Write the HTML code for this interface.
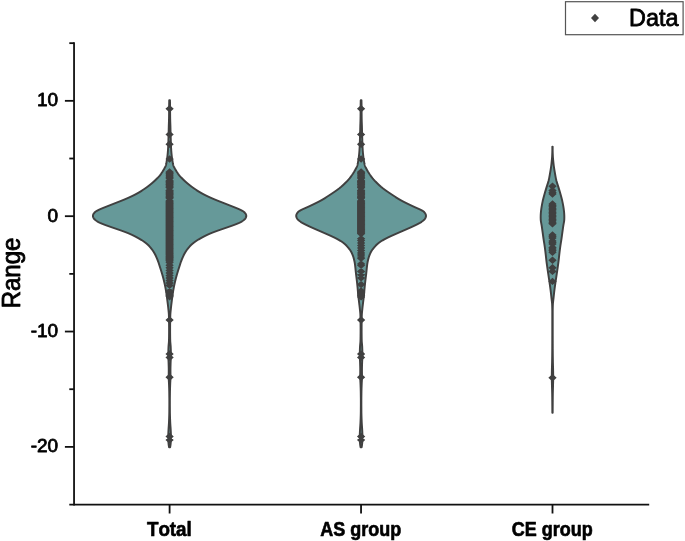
<!DOCTYPE html>
<html><head><meta charset="utf-8"><title>Violin plot</title>
<style>html,body{margin:0;padding:0;background:#fff}svg{display:block}</style></head>
<body>
<svg width="685" height="541" viewBox="0 0 685 541">
<rect width="685" height="541" fill="#fff"/>
<path d="M169.25,100.30 L169.24,100.80 L169.22,101.30 L169.21,101.80 L169.20,102.30 L169.19,102.80 L169.18,103.30 L169.17,103.80 L169.16,104.30 L169.15,104.80 L169.15,105.30 L169.14,105.80 L169.14,106.30 L169.13,106.80 L169.13,107.30 L169.13,107.80 L169.12,108.30 L169.12,108.80 L169.12,109.30 L169.12,109.80 L169.11,110.30 L169.11,110.80 L169.11,111.30 L169.10,111.80 L169.10,112.30 L169.09,112.80 L169.09,113.30 L169.08,113.80 L169.08,114.30 L169.07,114.80 L169.07,115.30 L169.06,115.80 L169.06,116.30 L169.05,116.80 L169.04,117.30 L169.04,117.80 L169.03,118.30 L169.02,118.80 L169.01,119.30 L169.00,119.80 L168.99,120.30 L168.98,120.80 L168.97,121.30 L168.95,121.80 L168.93,122.30 L168.92,122.80 L168.90,123.30 L168.88,123.80 L168.86,124.30 L168.84,124.80 L168.82,125.30 L168.81,125.80 L168.79,126.30 L168.78,126.80 L168.77,127.30 L168.75,127.80 L168.74,128.30 L168.73,128.80 L168.72,129.30 L168.71,129.80 L168.69,130.30 L168.68,130.80 L168.67,131.30 L168.66,131.80 L168.64,132.30 L168.63,132.80 L168.61,133.30 L168.60,133.80 L168.58,134.30 L168.57,134.80 L168.55,135.30 L168.54,135.80 L168.52,136.30 L168.51,136.80 L168.49,137.30 L168.48,137.80 L168.46,138.30 L168.45,138.80 L168.43,139.30 L168.42,139.80 L168.41,140.30 L168.39,140.80 L168.38,141.30 L168.37,141.80 L168.35,142.30 L168.34,142.80 L168.32,143.30 L168.31,143.80 L168.29,144.30 L168.27,144.80 L168.25,145.30 L168.23,145.80 L168.20,146.30 L168.18,146.80 L168.15,147.30 L168.12,147.80 L168.09,148.30 L168.06,148.80 L168.03,149.30 L168.00,149.80 L167.97,150.30 L167.93,150.80 L167.89,151.30 L167.85,151.80 L167.81,152.30 L167.77,152.80 L167.72,153.30 L167.67,153.80 L167.62,154.30 L167.57,154.80 L167.52,155.30 L167.46,155.80 L167.41,156.30 L167.35,156.80 L167.29,157.30 L167.22,157.80 L167.15,158.30 L167.07,158.80 L166.99,159.30 L166.90,159.80 L166.82,160.30 L166.73,160.80 L166.65,161.30 L166.58,161.80 L166.50,162.30 L166.42,162.80 L166.34,163.30 L166.25,163.80 L166.14,164.30 L166.02,164.80 L165.87,165.30 L165.69,165.80 L165.48,166.30 L165.25,166.80 L165.00,167.30 L164.75,167.80 L164.48,168.30 L164.22,168.80 L163.94,169.30 L163.65,169.80 L163.36,170.30 L163.06,170.80 L162.75,171.30 L162.43,171.80 L162.11,172.30 L161.77,172.80 L161.43,173.30 L161.08,173.80 L160.71,174.30 L160.33,174.80 L159.93,175.30 L159.52,175.80 L159.09,176.30 L158.65,176.80 L158.20,177.30 L157.74,177.80 L157.26,178.30 L156.77,178.80 L156.27,179.30 L155.76,179.80 L155.24,180.30 L154.71,180.80 L154.17,181.30 L153.62,181.80 L153.05,182.30 L152.48,182.80 L151.89,183.30 L151.30,183.80 L150.69,184.30 L150.07,184.80 L149.44,185.30 L148.80,185.80 L148.15,186.30 L147.49,186.80 L146.81,187.30 L146.11,187.80 L145.40,188.30 L144.67,188.80 L143.92,189.30 L143.15,189.80 L142.37,190.30 L141.57,190.80 L140.76,191.30 L139.93,191.80 L139.08,192.30 L138.21,192.80 L137.32,193.30 L136.41,193.80 L135.47,194.30 L134.51,194.80 L133.52,195.30 L132.50,195.80 L131.46,196.30 L130.39,196.80 L129.30,197.30 L128.18,197.80 L127.05,198.30 L125.89,198.80 L124.71,199.30 L123.51,199.80 L122.28,200.30 L121.03,200.80 L119.77,201.30 L118.49,201.80 L117.21,202.30 L115.93,202.80 L114.66,203.30 L113.39,203.80 L112.12,204.30 L110.86,204.80 L109.60,205.30 L108.33,205.80 L107.06,206.30 L105.80,206.80 L104.54,207.30 L103.29,207.80 L102.07,208.30 L100.89,208.80 L99.77,209.30 L98.72,209.80 L97.76,210.30 L96.89,210.80 L96.12,211.30 L95.45,211.80 L94.87,212.30 L94.37,212.80 L93.95,213.30 L93.60,213.80 L93.33,214.30 L93.12,214.80 L92.99,215.30 L92.93,215.80 L92.95,216.30 L93.04,216.80 L93.20,217.30 L93.43,217.80 L93.73,218.30 L94.10,218.80 L94.54,219.30 L95.06,219.80 L95.66,220.30 L96.35,220.80 L97.13,221.30 L98.01,221.80 L98.97,222.30 L100.03,222.80 L101.17,223.30 L102.38,223.80 L103.65,224.30 L104.97,224.80 L106.33,225.30 L107.71,225.80 L109.12,226.30 L110.55,226.80 L111.99,227.30 L113.44,227.80 L114.90,228.30 L116.35,228.80 L117.81,229.30 L119.25,229.80 L120.68,230.30 L122.09,230.80 L123.48,231.30 L124.83,231.80 L126.15,232.30 L127.42,232.80 L128.64,233.30 L129.81,233.80 L130.93,234.30 L132.01,234.80 L133.05,235.30 L134.06,235.80 L135.03,236.30 L135.99,236.80 L136.91,237.30 L137.82,237.80 L138.70,238.30 L139.56,238.80 L140.39,239.30 L141.19,239.80 L141.96,240.30 L142.71,240.80 L143.43,241.30 L144.13,241.80 L144.81,242.30 L145.47,242.80 L146.10,243.30 L146.72,243.80 L147.30,244.30 L147.87,244.80 L148.41,245.30 L148.92,245.80 L149.41,246.30 L149.87,246.80 L150.30,247.30 L150.72,247.80 L151.12,248.30 L151.50,248.80 L151.87,249.30 L152.23,249.80 L152.57,250.30 L152.90,250.80 L153.23,251.30 L153.55,251.80 L153.86,252.30 L154.16,252.80 L154.45,253.30 L154.73,253.80 L155.00,254.30 L155.27,254.80 L155.52,255.30 L155.77,255.80 L156.01,256.30 L156.24,256.80 L156.47,257.30 L156.69,257.80 L156.91,258.30 L157.12,258.80 L157.32,259.30 L157.52,259.80 L157.71,260.30 L157.90,260.80 L158.08,261.30 L158.26,261.80 L158.43,262.30 L158.59,262.80 L158.76,263.30 L158.91,263.80 L159.07,264.30 L159.23,264.80 L159.39,265.30 L159.54,265.80 L159.70,266.30 L159.86,266.80 L160.02,267.30 L160.19,267.80 L160.35,268.30 L160.51,268.80 L160.67,269.30 L160.83,269.80 L160.99,270.30 L161.15,270.80 L161.31,271.30 L161.46,271.80 L161.61,272.30 L161.76,272.80 L161.91,273.30 L162.06,273.80 L162.20,274.30 L162.35,274.80 L162.49,275.30 L162.63,275.80 L162.77,276.30 L162.91,276.80 L163.05,277.30 L163.18,277.80 L163.31,278.30 L163.44,278.80 L163.57,279.30 L163.69,279.80 L163.82,280.30 L163.94,280.80 L164.06,281.30 L164.18,281.80 L164.30,282.30 L164.41,282.80 L164.53,283.30 L164.64,283.80 L164.75,284.30 L164.86,284.80 L164.96,285.30 L165.07,285.80 L165.17,286.30 L165.27,286.80 L165.37,287.30 L165.46,287.80 L165.55,288.30 L165.65,288.80 L165.74,289.30 L165.83,289.80 L165.91,290.30 L166.00,290.80 L166.08,291.30 L166.17,291.80 L166.25,292.30 L166.33,292.80 L166.40,293.30 L166.48,293.80 L166.55,294.30 L166.63,294.80 L166.70,295.30 L166.77,295.80 L166.83,296.30 L166.90,296.80 L166.96,297.30 L167.03,297.80 L167.09,298.30 L167.15,298.80 L167.21,299.30 L167.28,299.80 L167.34,300.30 L167.40,300.80 L167.47,301.30 L167.53,301.80 L167.59,302.30 L167.66,302.80 L167.72,303.30 L167.78,303.80 L167.84,304.30 L167.91,304.80 L167.97,305.30 L168.02,305.80 L168.08,306.30 L168.14,306.80 L168.19,307.30 L168.24,307.80 L168.30,308.30 L168.35,308.80 L168.40,309.30 L168.46,309.80 L168.51,310.30 L168.56,310.80 L168.61,311.30 L168.66,311.80 L168.71,312.30 L168.75,312.80 L168.79,313.30 L168.82,313.80 L168.85,314.30 L168.87,314.80 L168.89,315.30 L168.91,315.80 L168.92,316.30 L168.94,316.80 L168.96,317.30 L168.97,317.80 L168.98,318.30 L169.00,318.80 L169.01,319.30 L169.02,319.80 L169.03,320.30 L169.03,320.80 L169.04,321.30 L169.05,321.80 L169.05,322.30 L169.06,322.80 L169.06,323.30 L169.07,323.80 L169.07,324.30 L169.08,324.80 L169.08,325.30 L169.08,325.80 L169.09,326.30 L169.09,326.80 L169.09,327.30 L169.10,327.80 L169.10,328.30 L169.10,328.80 L169.10,329.30 L169.10,329.80 L169.10,330.30 L169.10,330.80 L169.10,331.30 L169.10,331.80 L169.09,332.30 L169.09,332.80 L169.09,333.30 L169.08,333.80 L169.08,334.30 L169.07,334.80 L169.07,335.30 L169.06,335.80 L169.06,336.30 L169.05,336.80 L169.04,337.30 L169.04,337.80 L169.03,338.30 L169.02,338.80 L169.01,339.30 L169.00,339.80 L168.99,340.30 L168.97,340.80 L168.95,341.30 L168.91,341.80 L168.88,342.30 L168.83,342.80 L168.79,343.30 L168.74,343.80 L168.70,344.30 L168.65,344.80 L168.61,345.30 L168.57,345.80 L168.54,346.30 L168.51,346.80 L168.49,347.30 L168.47,347.80 L168.45,348.30 L168.43,348.80 L168.41,349.30 L168.39,349.80 L168.37,350.30 L168.36,350.80 L168.35,351.30 L168.35,351.80 L168.35,352.30 L168.35,352.80 L168.35,353.30 L168.35,353.80 L168.35,354.30 L168.35,354.80 L168.35,355.30 L168.35,355.80 L168.35,356.30 L168.35,356.80 L168.35,357.30 L168.36,357.80 L168.37,358.30 L168.39,358.80 L168.42,359.30 L168.44,359.80 L168.47,360.30 L168.50,360.80 L168.53,361.30 L168.55,361.80 L168.57,362.30 L168.59,362.80 L168.61,363.30 L168.62,363.80 L168.64,364.30 L168.65,364.80 L168.67,365.30 L168.68,365.80 L168.69,366.30 L168.71,366.80 L168.72,367.30 L168.73,367.80 L168.74,368.30 L168.74,368.80 L168.75,369.30 L168.75,369.80 L168.75,370.30 L168.75,370.80 L168.75,371.30 L168.74,371.80 L168.74,372.30 L168.73,372.80 L168.73,373.30 L168.72,373.80 L168.72,374.30 L168.71,374.80 L168.71,375.30 L168.70,375.80 L168.70,376.30 L168.70,376.80 L168.70,377.30 L168.71,377.80 L168.72,378.30 L168.74,378.80 L168.76,379.30 L168.78,379.80 L168.81,380.30 L168.84,380.80 L168.86,381.30 L168.89,381.80 L168.92,382.30 L168.95,382.80 L168.97,383.30 L168.99,383.80 L169.01,384.30 L169.03,384.80 L169.05,385.30 L169.07,385.80 L169.09,386.30 L169.10,386.80 L169.12,387.30 L169.14,387.80 L169.16,388.30 L169.17,388.80 L169.19,389.30 L169.20,389.80 L169.21,390.30 L169.23,390.80 L169.24,391.30 L169.25,391.80 L169.25,392.30 L169.26,392.80 L169.27,393.30 L169.28,393.80 L169.28,394.30 L169.29,394.80 L169.30,395.30 L169.30,395.80 L169.31,396.30 L169.32,396.80 L169.32,397.30 L169.33,397.80 L169.33,398.30 L169.34,398.80 L169.34,399.30 L169.34,399.80 L169.35,400.30 L169.35,400.80 L169.35,401.30 L169.35,401.80 L169.35,402.30 L169.35,402.80 L169.35,403.30 L169.35,403.80 L169.35,404.30 L169.35,404.80 L169.34,405.30 L169.34,405.80 L169.34,406.30 L169.34,406.80 L169.33,407.30 L169.33,407.80 L169.33,408.30 L169.32,408.80 L169.32,409.30 L169.32,409.80 L169.31,410.30 L169.31,410.80 L169.31,411.30 L169.30,411.80 L169.30,412.30 L169.29,412.80 L169.28,413.30 L169.27,413.80 L169.26,414.30 L169.25,414.80 L169.24,415.30 L169.23,415.80 L169.21,416.30 L169.20,416.80 L169.18,417.30 L169.16,417.80 L169.15,418.30 L169.13,418.80 L169.11,419.30 L169.09,419.80 L169.07,420.30 L169.05,420.80 L169.03,421.30 L169.01,421.80 L168.99,422.30 L168.96,422.80 L168.94,423.30 L168.91,423.80 L168.87,424.30 L168.84,424.80 L168.81,425.30 L168.77,425.80 L168.74,426.30 L168.70,426.80 L168.66,427.30 L168.63,427.80 L168.60,428.30 L168.57,428.80 L168.54,429.30 L168.51,429.80 L168.49,430.30 L168.46,430.80 L168.43,431.30 L168.41,431.80 L168.38,432.30 L168.36,432.80 L168.34,433.30 L168.32,433.80 L168.31,434.30 L168.30,434.80 L168.30,435.30 L168.30,435.80 L168.30,436.30 L168.30,436.80 L168.30,437.30 L168.30,437.80 L168.30,438.30 L168.30,438.80 L168.30,439.30 L168.30,439.80 L168.30,440.30 L168.32,440.80 L168.35,441.30 L168.38,441.80 L168.43,442.30 L168.48,442.80 L168.53,443.30 L168.58,443.80 L168.63,444.30 L168.69,444.80 L168.76,445.30 L168.84,445.80 L168.92,446.30 L169.01,446.80 L169.10,447.30 L170.10,447.30 L170.19,446.80 L170.28,446.30 L170.36,445.80 L170.44,445.30 L170.51,444.80 L170.57,444.30 L170.62,443.80 L170.67,443.30 L170.72,442.80 L170.77,442.30 L170.82,441.80 L170.85,441.30 L170.88,440.80 L170.90,440.30 L170.90,439.80 L170.90,439.30 L170.90,438.80 L170.90,438.30 L170.90,437.80 L170.90,437.30 L170.90,436.80 L170.90,436.30 L170.90,435.80 L170.90,435.30 L170.90,434.80 L170.89,434.30 L170.88,433.80 L170.86,433.30 L170.84,432.80 L170.82,432.30 L170.79,431.80 L170.77,431.30 L170.74,430.80 L170.71,430.30 L170.69,429.80 L170.66,429.30 L170.63,428.80 L170.60,428.30 L170.57,427.80 L170.54,427.30 L170.50,426.80 L170.46,426.30 L170.43,425.80 L170.39,425.30 L170.36,424.80 L170.33,424.30 L170.29,423.80 L170.26,423.30 L170.24,422.80 L170.21,422.30 L170.19,421.80 L170.17,421.30 L170.15,420.80 L170.13,420.30 L170.11,419.80 L170.09,419.30 L170.07,418.80 L170.05,418.30 L170.04,417.80 L170.02,417.30 L170.00,416.80 L169.99,416.30 L169.97,415.80 L169.96,415.30 L169.95,414.80 L169.94,414.30 L169.93,413.80 L169.92,413.30 L169.91,412.80 L169.90,412.30 L169.90,411.80 L169.89,411.30 L169.89,410.80 L169.89,410.30 L169.88,409.80 L169.88,409.30 L169.88,408.80 L169.87,408.30 L169.87,407.80 L169.87,407.30 L169.86,406.80 L169.86,406.30 L169.86,405.80 L169.86,405.30 L169.85,404.80 L169.85,404.30 L169.85,403.80 L169.85,403.30 L169.85,402.80 L169.85,402.30 L169.85,401.80 L169.85,401.30 L169.85,400.80 L169.85,400.30 L169.86,399.80 L169.86,399.30 L169.86,398.80 L169.87,398.30 L169.87,397.80 L169.88,397.30 L169.88,396.80 L169.89,396.30 L169.90,395.80 L169.90,395.30 L169.91,394.80 L169.92,394.30 L169.92,393.80 L169.93,393.30 L169.94,392.80 L169.95,392.30 L169.95,391.80 L169.96,391.30 L169.97,390.80 L169.99,390.30 L170.00,389.80 L170.01,389.30 L170.03,388.80 L170.04,388.30 L170.06,387.80 L170.08,387.30 L170.10,386.80 L170.11,386.30 L170.13,385.80 L170.15,385.30 L170.17,384.80 L170.19,384.30 L170.21,383.80 L170.23,383.30 L170.25,382.80 L170.28,382.30 L170.31,381.80 L170.34,381.30 L170.36,380.80 L170.39,380.30 L170.42,379.80 L170.44,379.30 L170.46,378.80 L170.48,378.30 L170.49,377.80 L170.50,377.30 L170.50,376.80 L170.50,376.30 L170.50,375.80 L170.49,375.30 L170.49,374.80 L170.48,374.30 L170.48,373.80 L170.47,373.30 L170.47,372.80 L170.46,372.30 L170.46,371.80 L170.45,371.30 L170.45,370.80 L170.45,370.30 L170.45,369.80 L170.45,369.30 L170.46,368.80 L170.46,368.30 L170.47,367.80 L170.48,367.30 L170.49,366.80 L170.51,366.30 L170.52,365.80 L170.53,365.30 L170.55,364.80 L170.56,364.30 L170.58,363.80 L170.59,363.30 L170.61,362.80 L170.63,362.30 L170.65,361.80 L170.67,361.30 L170.70,360.80 L170.73,360.30 L170.76,359.80 L170.78,359.30 L170.81,358.80 L170.83,358.30 L170.84,357.80 L170.85,357.30 L170.85,356.80 L170.85,356.30 L170.85,355.80 L170.85,355.30 L170.85,354.80 L170.85,354.30 L170.85,353.80 L170.85,353.30 L170.85,352.80 L170.85,352.30 L170.85,351.80 L170.85,351.30 L170.84,350.80 L170.83,350.30 L170.81,349.80 L170.79,349.30 L170.77,348.80 L170.75,348.30 L170.73,347.80 L170.71,347.30 L170.69,346.80 L170.66,346.30 L170.63,345.80 L170.59,345.30 L170.55,344.80 L170.50,344.30 L170.46,343.80 L170.41,343.30 L170.37,342.80 L170.32,342.30 L170.29,341.80 L170.25,341.30 L170.23,340.80 L170.21,340.30 L170.20,339.80 L170.19,339.30 L170.18,338.80 L170.17,338.30 L170.16,337.80 L170.16,337.30 L170.15,336.80 L170.14,336.30 L170.14,335.80 L170.13,335.30 L170.13,334.80 L170.12,334.30 L170.12,333.80 L170.11,333.30 L170.11,332.80 L170.11,332.30 L170.10,331.80 L170.10,331.30 L170.10,330.80 L170.10,330.30 L170.10,329.80 L170.10,329.30 L170.10,328.80 L170.10,328.30 L170.10,327.80 L170.11,327.30 L170.11,326.80 L170.11,326.30 L170.12,325.80 L170.12,325.30 L170.12,324.80 L170.13,324.30 L170.13,323.80 L170.14,323.30 L170.14,322.80 L170.15,322.30 L170.15,321.80 L170.16,321.30 L170.17,320.80 L170.17,320.30 L170.18,319.80 L170.19,319.30 L170.20,318.80 L170.22,318.30 L170.23,317.80 L170.24,317.30 L170.26,316.80 L170.28,316.30 L170.29,315.80 L170.31,315.30 L170.33,314.80 L170.35,314.30 L170.38,313.80 L170.41,313.30 L170.45,312.80 L170.49,312.30 L170.54,311.80 L170.59,311.30 L170.64,310.80 L170.69,310.30 L170.74,309.80 L170.80,309.30 L170.85,308.80 L170.90,308.30 L170.96,307.80 L171.01,307.30 L171.06,306.80 L171.12,306.30 L171.18,305.80 L171.23,305.30 L171.29,304.80 L171.36,304.30 L171.42,303.80 L171.48,303.30 L171.54,302.80 L171.61,302.30 L171.67,301.80 L171.73,301.30 L171.80,300.80 L171.86,300.30 L171.92,299.80 L171.99,299.30 L172.05,298.80 L172.11,298.30 L172.17,297.80 L172.24,297.30 L172.30,296.80 L172.37,296.30 L172.43,295.80 L172.50,295.30 L172.57,294.80 L172.65,294.30 L172.72,293.80 L172.80,293.30 L172.87,292.80 L172.95,292.30 L173.03,291.80 L173.12,291.30 L173.20,290.80 L173.29,290.30 L173.37,289.80 L173.46,289.30 L173.55,288.80 L173.65,288.30 L173.74,287.80 L173.83,287.30 L173.93,286.80 L174.03,286.30 L174.13,285.80 L174.24,285.30 L174.34,284.80 L174.45,284.30 L174.56,283.80 L174.67,283.30 L174.79,282.80 L174.90,282.30 L175.02,281.80 L175.14,281.30 L175.26,280.80 L175.38,280.30 L175.51,279.80 L175.63,279.30 L175.76,278.80 L175.89,278.30 L176.02,277.80 L176.15,277.30 L176.29,276.80 L176.43,276.30 L176.57,275.80 L176.71,275.30 L176.85,274.80 L177.00,274.30 L177.14,273.80 L177.29,273.30 L177.44,272.80 L177.59,272.30 L177.74,271.80 L177.89,271.30 L178.05,270.80 L178.21,270.30 L178.37,269.80 L178.53,269.30 L178.69,268.80 L178.85,268.30 L179.01,267.80 L179.18,267.30 L179.34,266.80 L179.50,266.30 L179.66,265.80 L179.81,265.30 L179.97,264.80 L180.13,264.30 L180.29,263.80 L180.44,263.30 L180.61,262.80 L180.77,262.30 L180.94,261.80 L181.12,261.30 L181.30,260.80 L181.49,260.30 L181.68,259.80 L181.88,259.30 L182.08,258.80 L182.29,258.30 L182.51,257.80 L182.73,257.30 L182.96,256.80 L183.19,256.30 L183.43,255.80 L183.68,255.30 L183.93,254.80 L184.20,254.30 L184.47,253.80 L184.75,253.30 L185.04,252.80 L185.34,252.30 L185.65,251.80 L185.97,251.30 L186.30,250.80 L186.63,250.30 L186.97,249.80 L187.33,249.30 L187.70,248.80 L188.08,248.30 L188.48,247.80 L188.90,247.30 L189.33,246.80 L189.79,246.30 L190.28,245.80 L190.79,245.30 L191.33,244.80 L191.90,244.30 L192.48,243.80 L193.10,243.30 L193.73,242.80 L194.39,242.30 L195.07,241.80 L195.77,241.30 L196.49,240.80 L197.24,240.30 L198.01,239.80 L198.81,239.30 L199.64,238.80 L200.50,238.30 L201.38,237.80 L202.29,237.30 L203.21,236.80 L204.17,236.30 L205.14,235.80 L206.15,235.30 L207.19,234.80 L208.27,234.30 L209.39,233.80 L210.56,233.30 L211.78,232.80 L213.05,232.30 L214.37,231.80 L215.72,231.30 L217.11,230.80 L218.52,230.30 L219.95,229.80 L221.39,229.30 L222.85,228.80 L224.30,228.30 L225.76,227.80 L227.21,227.30 L228.65,226.80 L230.08,226.30 L231.49,225.80 L232.87,225.30 L234.23,224.80 L235.55,224.30 L236.82,223.80 L238.03,223.30 L239.17,222.80 L240.23,222.30 L241.19,221.80 L242.07,221.30 L242.85,220.80 L243.54,220.30 L244.14,219.80 L244.66,219.30 L245.10,218.80 L245.47,218.30 L245.77,217.80 L246.00,217.30 L246.16,216.80 L246.25,216.30 L246.27,215.80 L246.21,215.30 L246.08,214.80 L245.87,214.30 L245.60,213.80 L245.25,213.30 L244.83,212.80 L244.33,212.30 L243.75,211.80 L243.08,211.30 L242.31,210.80 L241.44,210.30 L240.48,209.80 L239.43,209.30 L238.31,208.80 L237.13,208.30 L235.91,207.80 L234.66,207.30 L233.40,206.80 L232.14,206.30 L230.87,205.80 L229.60,205.30 L228.34,204.80 L227.08,204.30 L225.81,203.80 L224.54,203.30 L223.27,202.80 L221.99,202.30 L220.71,201.80 L219.43,201.30 L218.17,200.80 L216.92,200.30 L215.69,199.80 L214.49,199.30 L213.31,198.80 L212.15,198.30 L211.02,197.80 L209.90,197.30 L208.81,196.80 L207.74,196.30 L206.70,195.80 L205.68,195.30 L204.69,194.80 L203.73,194.30 L202.79,193.80 L201.88,193.30 L200.99,192.80 L200.12,192.30 L199.27,191.80 L198.44,191.30 L197.63,190.80 L196.83,190.30 L196.05,189.80 L195.28,189.30 L194.53,188.80 L193.80,188.30 L193.09,187.80 L192.39,187.30 L191.71,186.80 L191.05,186.30 L190.40,185.80 L189.76,185.30 L189.13,184.80 L188.51,184.30 L187.90,183.80 L187.31,183.30 L186.72,182.80 L186.15,182.30 L185.58,181.80 L185.03,181.30 L184.49,180.80 L183.96,180.30 L183.44,179.80 L182.93,179.30 L182.43,178.80 L181.94,178.30 L181.46,177.80 L181.00,177.30 L180.55,176.80 L180.11,176.30 L179.68,175.80 L179.27,175.30 L178.87,174.80 L178.49,174.30 L178.12,173.80 L177.77,173.30 L177.43,172.80 L177.09,172.30 L176.77,171.80 L176.45,171.30 L176.14,170.80 L175.84,170.30 L175.55,169.80 L175.26,169.30 L174.98,168.80 L174.72,168.30 L174.45,167.80 L174.20,167.30 L173.95,166.80 L173.72,166.30 L173.51,165.80 L173.33,165.30 L173.18,164.80 L173.06,164.30 L172.95,163.80 L172.86,163.30 L172.78,162.80 L172.70,162.30 L172.62,161.80 L172.55,161.30 L172.47,160.80 L172.38,160.30 L172.30,159.80 L172.21,159.30 L172.13,158.80 L172.05,158.30 L171.98,157.80 L171.91,157.30 L171.85,156.80 L171.79,156.30 L171.74,155.80 L171.68,155.30 L171.63,154.80 L171.58,154.30 L171.53,153.80 L171.48,153.30 L171.43,152.80 L171.39,152.30 L171.35,151.80 L171.31,151.30 L171.27,150.80 L171.23,150.30 L171.20,149.80 L171.17,149.30 L171.14,148.80 L171.11,148.30 L171.08,147.80 L171.05,147.30 L171.02,146.80 L171.00,146.30 L170.97,145.80 L170.95,145.30 L170.93,144.80 L170.91,144.30 L170.89,143.80 L170.88,143.30 L170.86,142.80 L170.85,142.30 L170.83,141.80 L170.82,141.30 L170.81,140.80 L170.79,140.30 L170.78,139.80 L170.77,139.30 L170.75,138.80 L170.74,138.30 L170.72,137.80 L170.71,137.30 L170.69,136.80 L170.68,136.30 L170.66,135.80 L170.65,135.30 L170.63,134.80 L170.62,134.30 L170.60,133.80 L170.59,133.30 L170.57,132.80 L170.56,132.30 L170.54,131.80 L170.53,131.30 L170.52,130.80 L170.51,130.30 L170.49,129.80 L170.48,129.30 L170.47,128.80 L170.46,128.30 L170.45,127.80 L170.43,127.30 L170.42,126.80 L170.41,126.30 L170.39,125.80 L170.38,125.30 L170.36,124.80 L170.34,124.30 L170.32,123.80 L170.30,123.30 L170.28,122.80 L170.27,122.30 L170.25,121.80 L170.23,121.30 L170.22,120.80 L170.21,120.30 L170.20,119.80 L170.19,119.30 L170.18,118.80 L170.17,118.30 L170.16,117.80 L170.16,117.30 L170.15,116.80 L170.14,116.30 L170.14,115.80 L170.13,115.30 L170.13,114.80 L170.12,114.30 L170.12,113.80 L170.11,113.30 L170.11,112.80 L170.10,112.30 L170.10,111.80 L170.09,111.30 L170.09,110.80 L170.09,110.30 L170.08,109.80 L170.08,109.30 L170.08,108.80 L170.08,108.30 L170.07,107.80 L170.07,107.30 L170.07,106.80 L170.06,106.30 L170.06,105.80 L170.05,105.30 L170.05,104.80 L170.04,104.30 L170.03,103.80 L170.02,103.30 L170.01,102.80 L170.00,102.30 L169.99,101.80 L169.98,101.30 L169.96,100.80 L169.95,100.30 Z" fill="#669999" stroke="#404040" stroke-width="1.95" stroke-linejoin="round"/>
<path d="M360.75,100.30 L360.74,100.80 L360.72,101.30 L360.71,101.80 L360.70,102.30 L360.69,102.80 L360.68,103.30 L360.67,103.80 L360.66,104.30 L360.65,104.80 L360.65,105.30 L360.64,105.80 L360.64,106.30 L360.63,106.80 L360.63,107.30 L360.63,107.80 L360.62,108.30 L360.62,108.80 L360.62,109.30 L360.62,109.80 L360.61,110.30 L360.61,110.80 L360.61,111.30 L360.60,111.80 L360.60,112.30 L360.59,112.80 L360.59,113.30 L360.58,113.80 L360.58,114.30 L360.57,114.80 L360.57,115.30 L360.56,115.80 L360.56,116.30 L360.55,116.80 L360.54,117.30 L360.54,117.80 L360.53,118.30 L360.52,118.80 L360.51,119.30 L360.50,119.80 L360.49,120.30 L360.48,120.80 L360.47,121.30 L360.45,121.80 L360.43,122.30 L360.42,122.80 L360.40,123.30 L360.38,123.80 L360.36,124.30 L360.34,124.80 L360.32,125.30 L360.31,125.80 L360.29,126.30 L360.28,126.80 L360.27,127.30 L360.25,127.80 L360.24,128.30 L360.23,128.80 L360.22,129.30 L360.21,129.80 L360.19,130.30 L360.18,130.80 L360.17,131.30 L360.16,131.80 L360.14,132.30 L360.13,132.80 L360.11,133.30 L360.10,133.80 L360.08,134.30 L360.07,134.80 L360.05,135.30 L360.04,135.80 L360.02,136.30 L360.01,136.80 L359.99,137.30 L359.98,137.80 L359.96,138.30 L359.95,138.80 L359.93,139.30 L359.92,139.80 L359.91,140.30 L359.89,140.80 L359.88,141.30 L359.87,141.80 L359.85,142.30 L359.84,142.80 L359.82,143.30 L359.81,143.80 L359.79,144.30 L359.77,144.80 L359.75,145.30 L359.73,145.80 L359.70,146.30 L359.68,146.80 L359.65,147.30 L359.62,147.80 L359.59,148.30 L359.56,148.80 L359.53,149.30 L359.50,149.80 L359.47,150.30 L359.43,150.80 L359.39,151.30 L359.35,151.80 L359.31,152.30 L359.27,152.80 L359.22,153.30 L359.17,153.80 L359.12,154.30 L359.07,154.80 L359.02,155.30 L358.96,155.80 L358.91,156.30 L358.85,156.80 L358.79,157.30 L358.72,157.80 L358.65,158.30 L358.57,158.80 L358.49,159.30 L358.40,159.80 L358.32,160.30 L358.23,160.80 L358.15,161.30 L358.07,161.80 L358.00,162.30 L357.92,162.80 L357.84,163.30 L357.74,163.80 L357.64,164.30 L357.52,164.80 L357.38,165.30 L357.21,165.80 L357.01,166.30 L356.80,166.80 L356.57,167.30 L356.33,167.80 L356.08,168.30 L355.83,168.80 L355.57,169.30 L355.30,169.80 L355.02,170.30 L354.73,170.80 L354.44,171.30 L354.15,171.80 L353.84,172.30 L353.53,172.80 L353.21,173.30 L352.89,173.80 L352.55,174.30 L352.21,174.80 L351.85,175.30 L351.49,175.80 L351.12,176.30 L350.74,176.80 L350.35,177.30 L349.95,177.80 L349.55,178.30 L349.13,178.80 L348.71,179.30 L348.27,179.80 L347.83,180.30 L347.38,180.80 L346.92,181.30 L346.45,181.80 L345.97,182.30 L345.49,182.80 L344.99,183.30 L344.49,183.80 L343.97,184.30 L343.44,184.80 L342.91,185.30 L342.36,185.80 L341.79,186.30 L341.22,186.80 L340.62,187.30 L340.01,187.80 L339.39,188.30 L338.74,188.80 L338.08,189.30 L337.41,189.80 L336.72,190.30 L336.01,190.80 L335.30,191.30 L334.57,191.80 L333.84,192.30 L333.10,192.80 L332.35,193.30 L331.60,193.80 L330.85,194.30 L330.09,194.80 L329.33,195.30 L328.56,195.80 L327.79,196.30 L327.01,196.80 L326.22,197.30 L325.42,197.80 L324.61,198.30 L323.78,198.80 L322.93,199.30 L322.06,199.80 L321.17,200.30 L320.25,200.80 L319.31,201.30 L318.35,201.80 L317.36,202.30 L316.36,202.80 L315.34,203.30 L314.32,203.80 L313.29,204.30 L312.26,204.80 L311.21,205.30 L310.16,205.80 L309.10,206.30 L308.01,206.80 L306.90,207.30 L305.78,207.80 L304.63,208.30 L303.50,208.80 L302.41,209.30 L301.38,209.80 L300.45,210.30 L299.64,210.80 L298.94,211.30 L298.35,211.80 L297.85,212.30 L297.43,212.80 L297.08,213.30 L296.79,213.80 L296.55,214.30 L296.38,214.80 L296.27,215.30 L296.22,215.80 L296.24,216.30 L296.33,216.80 L296.48,217.30 L296.69,217.80 L296.96,218.30 L297.28,218.80 L297.67,219.30 L298.12,219.80 L298.64,220.30 L299.23,220.80 L299.90,221.30 L300.63,221.80 L301.44,222.30 L302.30,222.80 L303.21,223.30 L304.15,223.80 L305.12,224.30 L306.12,224.80 L307.14,225.30 L308.18,225.80 L309.25,226.30 L310.33,226.80 L311.44,227.30 L312.55,227.80 L313.68,228.30 L314.82,228.80 L315.97,229.30 L317.11,229.80 L318.26,230.30 L319.41,230.80 L320.56,231.30 L321.71,231.80 L322.86,232.30 L324.01,232.80 L325.15,233.30 L326.29,233.80 L327.42,234.30 L328.55,234.80 L329.67,235.30 L330.78,235.80 L331.87,236.30 L332.94,236.80 L333.98,237.30 L335.00,237.80 L335.98,238.30 L336.93,238.80 L337.85,239.30 L338.73,239.80 L339.57,240.30 L340.37,240.80 L341.14,241.30 L341.87,241.80 L342.57,242.30 L343.24,242.80 L343.87,243.30 L344.47,243.80 L345.05,244.30 L345.59,244.80 L346.11,245.30 L346.61,245.80 L347.08,246.30 L347.54,246.80 L347.97,247.30 L348.39,247.80 L348.79,248.30 L349.18,248.80 L349.55,249.30 L349.90,249.80 L350.23,250.30 L350.55,250.80 L350.85,251.30 L351.14,251.80 L351.41,252.30 L351.67,252.80 L351.92,253.30 L352.15,253.80 L352.37,254.30 L352.58,254.80 L352.77,255.30 L352.95,255.80 L353.11,256.30 L353.27,256.80 L353.42,257.30 L353.57,257.80 L353.70,258.30 L353.84,258.80 L353.97,259.30 L354.09,259.80 L354.21,260.30 L354.33,260.80 L354.44,261.30 L354.55,261.80 L354.65,262.30 L354.74,262.80 L354.82,263.30 L354.90,263.80 L354.97,264.30 L355.04,264.80 L355.10,265.30 L355.16,265.80 L355.22,266.30 L355.28,266.80 L355.33,267.30 L355.39,267.80 L355.44,268.30 L355.49,268.80 L355.54,269.30 L355.59,269.80 L355.64,270.30 L355.69,270.80 L355.74,271.30 L355.79,271.80 L355.84,272.30 L355.90,272.80 L355.96,273.30 L356.01,273.80 L356.07,274.30 L356.13,274.80 L356.20,275.30 L356.26,275.80 L356.32,276.30 L356.38,276.80 L356.45,277.30 L356.51,277.80 L356.57,278.30 L356.63,278.80 L356.69,279.30 L356.75,279.80 L356.81,280.30 L356.86,280.80 L356.92,281.30 L356.98,281.80 L357.03,282.30 L357.09,282.80 L357.14,283.30 L357.20,283.80 L357.25,284.30 L357.30,284.80 L357.36,285.30 L357.41,285.80 L357.46,286.30 L357.51,286.80 L357.56,287.30 L357.61,287.80 L357.65,288.30 L357.70,288.80 L357.74,289.30 L357.78,289.80 L357.82,290.30 L357.86,290.80 L357.91,291.30 L357.95,291.80 L357.99,292.30 L358.03,292.80 L358.08,293.30 L358.12,293.80 L358.17,294.30 L358.22,294.80 L358.27,295.30 L358.33,295.80 L358.38,296.30 L358.44,296.80 L358.49,297.30 L358.55,297.80 L358.61,298.30 L358.67,298.80 L358.73,299.30 L358.79,299.80 L358.85,300.30 L358.91,300.80 L358.97,301.30 L359.03,301.80 L359.09,302.30 L359.15,302.80 L359.21,303.30 L359.27,303.80 L359.33,304.30 L359.40,304.80 L359.46,305.30 L359.52,305.80 L359.58,306.30 L359.64,306.80 L359.69,307.30 L359.74,307.80 L359.80,308.30 L359.85,308.80 L359.90,309.30 L359.96,309.80 L360.01,310.30 L360.06,310.80 L360.11,311.30 L360.16,311.80 L360.21,312.30 L360.25,312.80 L360.29,313.30 L360.32,313.80 L360.35,314.30 L360.37,314.80 L360.39,315.30 L360.41,315.80 L360.42,316.30 L360.44,316.80 L360.46,317.30 L360.47,317.80 L360.48,318.30 L360.50,318.80 L360.51,319.30 L360.52,319.80 L360.53,320.30 L360.53,320.80 L360.54,321.30 L360.55,321.80 L360.55,322.30 L360.56,322.80 L360.56,323.30 L360.57,323.80 L360.57,324.30 L360.58,324.80 L360.58,325.30 L360.58,325.80 L360.59,326.30 L360.59,326.80 L360.59,327.30 L360.60,327.80 L360.60,328.30 L360.60,328.80 L360.60,329.30 L360.60,329.80 L360.60,330.30 L360.60,330.80 L360.60,331.30 L360.60,331.80 L360.59,332.30 L360.59,332.80 L360.59,333.30 L360.58,333.80 L360.58,334.30 L360.57,334.80 L360.57,335.30 L360.56,335.80 L360.56,336.30 L360.55,336.80 L360.54,337.30 L360.54,337.80 L360.53,338.30 L360.52,338.80 L360.51,339.30 L360.50,339.80 L360.49,340.30 L360.47,340.80 L360.45,341.30 L360.41,341.80 L360.38,342.30 L360.33,342.80 L360.29,343.30 L360.24,343.80 L360.20,344.30 L360.15,344.80 L360.11,345.30 L360.07,345.80 L360.04,346.30 L360.01,346.80 L359.99,347.30 L359.97,347.80 L359.95,348.30 L359.93,348.80 L359.91,349.30 L359.89,349.80 L359.87,350.30 L359.86,350.80 L359.85,351.30 L359.85,351.80 L359.85,352.30 L359.85,352.80 L359.85,353.30 L359.85,353.80 L359.85,354.30 L359.85,354.80 L359.85,355.30 L359.85,355.80 L359.85,356.30 L359.85,356.80 L359.85,357.30 L359.86,357.80 L359.87,358.30 L359.89,358.80 L359.92,359.30 L359.94,359.80 L359.97,360.30 L360.00,360.80 L360.03,361.30 L360.05,361.80 L360.07,362.30 L360.09,362.80 L360.11,363.30 L360.12,363.80 L360.14,364.30 L360.15,364.80 L360.17,365.30 L360.18,365.80 L360.19,366.30 L360.21,366.80 L360.22,367.30 L360.23,367.80 L360.24,368.30 L360.24,368.80 L360.25,369.30 L360.25,369.80 L360.25,370.30 L360.25,370.80 L360.25,371.30 L360.24,371.80 L360.24,372.30 L360.23,372.80 L360.23,373.30 L360.22,373.80 L360.22,374.30 L360.21,374.80 L360.21,375.30 L360.20,375.80 L360.20,376.30 L360.20,376.80 L360.20,377.30 L360.21,377.80 L360.22,378.30 L360.24,378.80 L360.26,379.30 L360.28,379.80 L360.31,380.30 L360.34,380.80 L360.36,381.30 L360.39,381.80 L360.42,382.30 L360.45,382.80 L360.47,383.30 L360.49,383.80 L360.51,384.30 L360.53,384.80 L360.55,385.30 L360.57,385.80 L360.59,386.30 L360.60,386.80 L360.62,387.30 L360.64,387.80 L360.66,388.30 L360.67,388.80 L360.69,389.30 L360.70,389.80 L360.71,390.30 L360.73,390.80 L360.74,391.30 L360.75,391.80 L360.75,392.30 L360.76,392.80 L360.77,393.30 L360.78,393.80 L360.78,394.30 L360.79,394.80 L360.80,395.30 L360.80,395.80 L360.81,396.30 L360.82,396.80 L360.82,397.30 L360.83,397.80 L360.83,398.30 L360.84,398.80 L360.84,399.30 L360.84,399.80 L360.85,400.30 L360.85,400.80 L360.85,401.30 L360.85,401.80 L360.85,402.30 L360.85,402.80 L360.85,403.30 L360.85,403.80 L360.85,404.30 L360.85,404.80 L360.84,405.30 L360.84,405.80 L360.84,406.30 L360.84,406.80 L360.83,407.30 L360.83,407.80 L360.83,408.30 L360.82,408.80 L360.82,409.30 L360.82,409.80 L360.81,410.30 L360.81,410.80 L360.81,411.30 L360.80,411.80 L360.80,412.30 L360.79,412.80 L360.78,413.30 L360.77,413.80 L360.76,414.30 L360.75,414.80 L360.74,415.30 L360.73,415.80 L360.71,416.30 L360.70,416.80 L360.68,417.30 L360.66,417.80 L360.65,418.30 L360.63,418.80 L360.61,419.30 L360.59,419.80 L360.57,420.30 L360.55,420.80 L360.53,421.30 L360.51,421.80 L360.49,422.30 L360.46,422.80 L360.44,423.30 L360.41,423.80 L360.37,424.30 L360.34,424.80 L360.31,425.30 L360.27,425.80 L360.24,426.30 L360.20,426.80 L360.16,427.30 L360.13,427.80 L360.10,428.30 L360.07,428.80 L360.04,429.30 L360.01,429.80 L359.99,430.30 L359.96,430.80 L359.93,431.30 L359.91,431.80 L359.88,432.30 L359.86,432.80 L359.84,433.30 L359.82,433.80 L359.81,434.30 L359.80,434.80 L359.80,435.30 L359.80,435.80 L359.80,436.30 L359.80,436.80 L359.80,437.30 L359.80,437.80 L359.80,438.30 L359.80,438.80 L359.80,439.30 L359.80,439.80 L359.80,440.30 L359.82,440.80 L359.85,441.30 L359.88,441.80 L359.93,442.30 L359.98,442.80 L360.03,443.30 L360.08,443.80 L360.13,444.30 L360.19,444.80 L360.26,445.30 L360.34,445.80 L360.42,446.30 L360.51,446.80 L360.60,447.30 L361.60,447.30 L361.69,446.80 L361.78,446.30 L361.86,445.80 L361.94,445.30 L362.01,444.80 L362.07,444.30 L362.12,443.80 L362.17,443.30 L362.22,442.80 L362.27,442.30 L362.32,441.80 L362.35,441.30 L362.38,440.80 L362.40,440.30 L362.40,439.80 L362.40,439.30 L362.40,438.80 L362.40,438.30 L362.40,437.80 L362.40,437.30 L362.40,436.80 L362.40,436.30 L362.40,435.80 L362.40,435.30 L362.40,434.80 L362.39,434.30 L362.38,433.80 L362.36,433.30 L362.34,432.80 L362.32,432.30 L362.29,431.80 L362.27,431.30 L362.24,430.80 L362.21,430.30 L362.19,429.80 L362.16,429.30 L362.13,428.80 L362.10,428.30 L362.07,427.80 L362.04,427.30 L362.00,426.80 L361.96,426.30 L361.93,425.80 L361.89,425.30 L361.86,424.80 L361.83,424.30 L361.79,423.80 L361.76,423.30 L361.74,422.80 L361.71,422.30 L361.69,421.80 L361.67,421.30 L361.65,420.80 L361.63,420.30 L361.61,419.80 L361.59,419.30 L361.57,418.80 L361.55,418.30 L361.54,417.80 L361.52,417.30 L361.50,416.80 L361.49,416.30 L361.47,415.80 L361.46,415.30 L361.45,414.80 L361.44,414.30 L361.43,413.80 L361.42,413.30 L361.41,412.80 L361.40,412.30 L361.40,411.80 L361.39,411.30 L361.39,410.80 L361.39,410.30 L361.38,409.80 L361.38,409.30 L361.38,408.80 L361.37,408.30 L361.37,407.80 L361.37,407.30 L361.36,406.80 L361.36,406.30 L361.36,405.80 L361.36,405.30 L361.35,404.80 L361.35,404.30 L361.35,403.80 L361.35,403.30 L361.35,402.80 L361.35,402.30 L361.35,401.80 L361.35,401.30 L361.35,400.80 L361.35,400.30 L361.36,399.80 L361.36,399.30 L361.36,398.80 L361.37,398.30 L361.37,397.80 L361.38,397.30 L361.38,396.80 L361.39,396.30 L361.40,395.80 L361.40,395.30 L361.41,394.80 L361.42,394.30 L361.42,393.80 L361.43,393.30 L361.44,392.80 L361.45,392.30 L361.45,391.80 L361.46,391.30 L361.47,390.80 L361.49,390.30 L361.50,389.80 L361.51,389.30 L361.53,388.80 L361.54,388.30 L361.56,387.80 L361.58,387.30 L361.60,386.80 L361.61,386.30 L361.63,385.80 L361.65,385.30 L361.67,384.80 L361.69,384.30 L361.71,383.80 L361.73,383.30 L361.75,382.80 L361.78,382.30 L361.81,381.80 L361.84,381.30 L361.86,380.80 L361.89,380.30 L361.92,379.80 L361.94,379.30 L361.96,378.80 L361.98,378.30 L361.99,377.80 L362.00,377.30 L362.00,376.80 L362.00,376.30 L362.00,375.80 L361.99,375.30 L361.99,374.80 L361.98,374.30 L361.98,373.80 L361.97,373.30 L361.97,372.80 L361.96,372.30 L361.96,371.80 L361.95,371.30 L361.95,370.80 L361.95,370.30 L361.95,369.80 L361.95,369.30 L361.96,368.80 L361.96,368.30 L361.97,367.80 L361.98,367.30 L361.99,366.80 L362.01,366.30 L362.02,365.80 L362.03,365.30 L362.05,364.80 L362.06,364.30 L362.08,363.80 L362.09,363.30 L362.11,362.80 L362.13,362.30 L362.15,361.80 L362.17,361.30 L362.20,360.80 L362.23,360.30 L362.26,359.80 L362.28,359.30 L362.31,358.80 L362.33,358.30 L362.34,357.80 L362.35,357.30 L362.35,356.80 L362.35,356.30 L362.35,355.80 L362.35,355.30 L362.35,354.80 L362.35,354.30 L362.35,353.80 L362.35,353.30 L362.35,352.80 L362.35,352.30 L362.35,351.80 L362.35,351.30 L362.34,350.80 L362.33,350.30 L362.31,349.80 L362.29,349.30 L362.27,348.80 L362.25,348.30 L362.23,347.80 L362.21,347.30 L362.19,346.80 L362.16,346.30 L362.13,345.80 L362.09,345.30 L362.05,344.80 L362.00,344.30 L361.96,343.80 L361.91,343.30 L361.87,342.80 L361.82,342.30 L361.79,341.80 L361.75,341.30 L361.73,340.80 L361.71,340.30 L361.70,339.80 L361.69,339.30 L361.68,338.80 L361.67,338.30 L361.66,337.80 L361.66,337.30 L361.65,336.80 L361.64,336.30 L361.64,335.80 L361.63,335.30 L361.63,334.80 L361.62,334.30 L361.62,333.80 L361.61,333.30 L361.61,332.80 L361.61,332.30 L361.60,331.80 L361.60,331.30 L361.60,330.80 L361.60,330.30 L361.60,329.80 L361.60,329.30 L361.60,328.80 L361.60,328.30 L361.60,327.80 L361.61,327.30 L361.61,326.80 L361.61,326.30 L361.62,325.80 L361.62,325.30 L361.62,324.80 L361.63,324.30 L361.63,323.80 L361.64,323.30 L361.64,322.80 L361.65,322.30 L361.65,321.80 L361.66,321.30 L361.67,320.80 L361.67,320.30 L361.68,319.80 L361.69,319.30 L361.70,318.80 L361.72,318.30 L361.73,317.80 L361.74,317.30 L361.76,316.80 L361.78,316.30 L361.79,315.80 L361.81,315.30 L361.83,314.80 L361.85,314.30 L361.88,313.80 L361.91,313.30 L361.95,312.80 L361.99,312.30 L362.04,311.80 L362.09,311.30 L362.14,310.80 L362.19,310.30 L362.24,309.80 L362.30,309.30 L362.35,308.80 L362.40,308.30 L362.46,307.80 L362.51,307.30 L362.56,306.80 L362.62,306.30 L362.68,305.80 L362.74,305.30 L362.80,304.80 L362.87,304.30 L362.93,303.80 L362.99,303.30 L363.05,302.80 L363.11,302.30 L363.17,301.80 L363.23,301.30 L363.29,300.80 L363.35,300.30 L363.41,299.80 L363.47,299.30 L363.53,298.80 L363.59,298.30 L363.65,297.80 L363.71,297.30 L363.76,296.80 L363.82,296.30 L363.87,295.80 L363.93,295.30 L363.98,294.80 L364.03,294.30 L364.08,293.80 L364.12,293.30 L364.17,292.80 L364.21,292.30 L364.25,291.80 L364.29,291.30 L364.34,290.80 L364.38,290.30 L364.42,289.80 L364.46,289.30 L364.50,288.80 L364.55,288.30 L364.59,287.80 L364.64,287.30 L364.69,286.80 L364.74,286.30 L364.79,285.80 L364.84,285.30 L364.90,284.80 L364.95,284.30 L365.00,283.80 L365.06,283.30 L365.11,282.80 L365.17,282.30 L365.22,281.80 L365.28,281.30 L365.34,280.80 L365.39,280.30 L365.45,279.80 L365.51,279.30 L365.57,278.80 L365.63,278.30 L365.69,277.80 L365.75,277.30 L365.82,276.80 L365.88,276.30 L365.94,275.80 L366.00,275.30 L366.07,274.80 L366.13,274.30 L366.19,273.80 L366.24,273.30 L366.30,272.80 L366.36,272.30 L366.41,271.80 L366.46,271.30 L366.51,270.80 L366.56,270.30 L366.61,269.80 L366.66,269.30 L366.71,268.80 L366.76,268.30 L366.81,267.80 L366.87,267.30 L366.92,266.80 L366.98,266.30 L367.04,265.80 L367.10,265.30 L367.16,264.80 L367.23,264.30 L367.30,263.80 L367.38,263.30 L367.46,262.80 L367.55,262.30 L367.65,261.80 L367.76,261.30 L367.87,260.80 L367.99,260.30 L368.11,259.80 L368.23,259.30 L368.36,258.80 L368.50,258.30 L368.63,257.80 L368.78,257.30 L368.93,256.80 L369.09,256.30 L369.25,255.80 L369.43,255.30 L369.62,254.80 L369.83,254.30 L370.05,253.80 L370.28,253.30 L370.53,252.80 L370.79,252.30 L371.06,251.80 L371.35,251.30 L371.65,250.80 L371.97,250.30 L372.30,249.80 L372.65,249.30 L373.02,248.80 L373.41,248.30 L373.81,247.80 L374.23,247.30 L374.66,246.80 L375.12,246.30 L375.59,245.80 L376.09,245.30 L376.61,244.80 L377.15,244.30 L377.73,243.80 L378.33,243.30 L378.96,242.80 L379.63,242.30 L380.33,241.80 L381.06,241.30 L381.83,240.80 L382.63,240.30 L383.47,239.80 L384.35,239.30 L385.27,238.80 L386.22,238.30 L387.20,237.80 L388.22,237.30 L389.26,236.80 L390.33,236.30 L391.42,235.80 L392.53,235.30 L393.65,234.80 L394.78,234.30 L395.91,233.80 L397.05,233.30 L398.19,232.80 L399.34,232.30 L400.49,231.80 L401.64,231.30 L402.79,230.80 L403.94,230.30 L405.09,229.80 L406.23,229.30 L407.38,228.80 L408.52,228.30 L409.65,227.80 L410.76,227.30 L411.87,226.80 L412.95,226.30 L414.02,225.80 L415.06,225.30 L416.08,224.80 L417.08,224.30 L418.05,223.80 L418.99,223.30 L419.90,222.80 L420.76,222.30 L421.57,221.80 L422.30,221.30 L422.97,220.80 L423.56,220.30 L424.08,219.80 L424.53,219.30 L424.92,218.80 L425.24,218.30 L425.51,217.80 L425.72,217.30 L425.87,216.80 L425.96,216.30 L425.98,215.80 L425.93,215.30 L425.82,214.80 L425.65,214.30 L425.41,213.80 L425.12,213.30 L424.77,212.80 L424.35,212.30 L423.85,211.80 L423.26,211.30 L422.56,210.80 L421.75,210.30 L420.82,209.80 L419.79,209.30 L418.70,208.80 L417.57,208.30 L416.42,207.80 L415.30,207.30 L414.19,206.80 L413.10,206.30 L412.04,205.80 L410.99,205.30 L409.94,204.80 L408.91,204.30 L407.88,203.80 L406.86,203.30 L405.84,202.80 L404.84,202.30 L403.85,201.80 L402.89,201.30 L401.95,200.80 L401.03,200.30 L400.14,199.80 L399.27,199.30 L398.42,198.80 L397.59,198.30 L396.78,197.80 L395.98,197.30 L395.19,196.80 L394.41,196.30 L393.64,195.80 L392.87,195.30 L392.11,194.80 L391.35,194.30 L390.60,193.80 L389.85,193.30 L389.10,192.80 L388.36,192.30 L387.63,191.80 L386.90,191.30 L386.19,190.80 L385.48,190.30 L384.79,189.80 L384.12,189.30 L383.46,188.80 L382.81,188.30 L382.19,187.80 L381.58,187.30 L380.98,186.80 L380.41,186.30 L379.84,185.80 L379.29,185.30 L378.76,184.80 L378.23,184.30 L377.71,183.80 L377.21,183.30 L376.71,182.80 L376.23,182.30 L375.75,181.80 L375.28,181.30 L374.82,180.80 L374.37,180.30 L373.93,179.80 L373.49,179.30 L373.07,178.80 L372.65,178.30 L372.25,177.80 L371.85,177.30 L371.46,176.80 L371.08,176.30 L370.71,175.80 L370.35,175.30 L369.99,174.80 L369.65,174.30 L369.31,173.80 L368.99,173.30 L368.67,172.80 L368.36,172.30 L368.05,171.80 L367.76,171.30 L367.47,170.80 L367.18,170.30 L366.90,169.80 L366.63,169.30 L366.37,168.80 L366.12,168.30 L365.87,167.80 L365.63,167.30 L365.40,166.80 L365.19,166.30 L364.99,165.80 L364.82,165.30 L364.68,164.80 L364.56,164.30 L364.46,163.80 L364.36,163.30 L364.28,162.80 L364.20,162.30 L364.13,161.80 L364.05,161.30 L363.97,160.80 L363.88,160.30 L363.80,159.80 L363.71,159.30 L363.63,158.80 L363.55,158.30 L363.48,157.80 L363.41,157.30 L363.35,156.80 L363.29,156.30 L363.24,155.80 L363.18,155.30 L363.13,154.80 L363.08,154.30 L363.03,153.80 L362.98,153.30 L362.93,152.80 L362.89,152.30 L362.85,151.80 L362.81,151.30 L362.77,150.80 L362.73,150.30 L362.70,149.80 L362.67,149.30 L362.64,148.80 L362.61,148.30 L362.58,147.80 L362.55,147.30 L362.52,146.80 L362.50,146.30 L362.47,145.80 L362.45,145.30 L362.43,144.80 L362.41,144.30 L362.39,143.80 L362.38,143.30 L362.36,142.80 L362.35,142.30 L362.33,141.80 L362.32,141.30 L362.31,140.80 L362.29,140.30 L362.28,139.80 L362.27,139.30 L362.25,138.80 L362.24,138.30 L362.22,137.80 L362.21,137.30 L362.19,136.80 L362.18,136.30 L362.16,135.80 L362.15,135.30 L362.13,134.80 L362.12,134.30 L362.10,133.80 L362.09,133.30 L362.07,132.80 L362.06,132.30 L362.04,131.80 L362.03,131.30 L362.02,130.80 L362.01,130.30 L361.99,129.80 L361.98,129.30 L361.97,128.80 L361.96,128.30 L361.95,127.80 L361.93,127.30 L361.92,126.80 L361.91,126.30 L361.89,125.80 L361.88,125.30 L361.86,124.80 L361.84,124.30 L361.82,123.80 L361.80,123.30 L361.78,122.80 L361.77,122.30 L361.75,121.80 L361.73,121.30 L361.72,120.80 L361.71,120.30 L361.70,119.80 L361.69,119.30 L361.68,118.80 L361.67,118.30 L361.66,117.80 L361.66,117.30 L361.65,116.80 L361.64,116.30 L361.64,115.80 L361.63,115.30 L361.63,114.80 L361.62,114.30 L361.62,113.80 L361.61,113.30 L361.61,112.80 L361.60,112.30 L361.60,111.80 L361.59,111.30 L361.59,110.80 L361.59,110.30 L361.58,109.80 L361.58,109.30 L361.58,108.80 L361.58,108.30 L361.57,107.80 L361.57,107.30 L361.57,106.80 L361.56,106.30 L361.56,105.80 L361.55,105.30 L361.55,104.80 L361.54,104.30 L361.53,103.80 L361.52,103.30 L361.51,102.80 L361.50,102.30 L361.49,101.80 L361.48,101.30 L361.46,100.80 L361.45,100.30 Z" fill="#669999" stroke="#404040" stroke-width="1.95" stroke-linejoin="round"/>
<path d="M552.35,146.60 L552.35,147.10 L552.35,147.60 L552.35,148.10 L552.35,148.60 L552.35,149.10 L552.35,149.60 L552.35,150.10 L552.35,150.60 L552.34,151.10 L552.33,151.60 L552.32,152.10 L552.30,152.60 L552.28,153.10 L552.26,153.60 L552.25,154.10 L552.23,154.60 L552.20,155.10 L552.18,155.60 L552.15,156.10 L552.13,156.60 L552.10,157.10 L552.06,157.60 L552.03,158.10 L551.99,158.60 L551.94,159.10 L551.90,159.60 L551.84,160.10 L551.79,160.60 L551.74,161.10 L551.69,161.60 L551.64,162.10 L551.59,162.60 L551.54,163.10 L551.48,163.60 L551.43,164.10 L551.37,164.60 L551.31,165.10 L551.25,165.60 L551.18,166.10 L551.11,166.60 L551.04,167.10 L550.97,167.60 L550.89,168.10 L550.81,168.60 L550.73,169.10 L550.66,169.60 L550.57,170.10 L550.49,170.60 L550.41,171.10 L550.32,171.60 L550.24,172.10 L550.15,172.60 L550.06,173.10 L549.98,173.60 L549.89,174.10 L549.80,174.60 L549.72,175.10 L549.63,175.60 L549.54,176.10 L549.45,176.60 L549.36,177.10 L549.27,177.60 L549.18,178.10 L549.08,178.60 L548.98,179.10 L548.88,179.60 L548.76,180.10 L548.63,180.60 L548.50,181.10 L548.35,181.60 L548.20,182.10 L548.04,182.60 L547.89,183.10 L547.73,183.60 L547.57,184.10 L547.41,184.60 L547.25,185.10 L547.08,185.60 L546.92,186.10 L546.76,186.60 L546.60,187.10 L546.45,187.60 L546.29,188.10 L546.14,188.60 L545.99,189.10 L545.84,189.60 L545.69,190.10 L545.54,190.60 L545.40,191.10 L545.25,191.60 L545.11,192.10 L544.97,192.60 L544.83,193.10 L544.69,193.60 L544.55,194.10 L544.41,194.60 L544.27,195.10 L544.13,195.60 L544.00,196.10 L543.86,196.60 L543.72,197.10 L543.59,197.60 L543.46,198.10 L543.33,198.60 L543.20,199.10 L543.07,199.60 L542.95,200.10 L542.83,200.60 L542.71,201.10 L542.60,201.60 L542.49,202.10 L542.39,202.60 L542.29,203.10 L542.19,203.60 L542.09,204.10 L542.00,204.60 L541.91,205.10 L541.82,205.60 L541.73,206.10 L541.65,206.60 L541.56,207.10 L541.49,207.60 L541.41,208.10 L541.34,208.60 L541.27,209.10 L541.21,209.60 L541.14,210.10 L541.09,210.60 L541.03,211.10 L540.97,211.60 L540.92,212.10 L540.88,212.60 L540.84,213.10 L540.80,213.60 L540.77,214.10 L540.75,214.60 L540.72,215.10 L540.71,215.60 L540.69,216.10 L540.69,216.60 L540.68,217.10 L540.68,217.60 L540.69,218.10 L540.70,218.60 L540.71,219.10 L540.74,219.60 L540.77,220.10 L540.82,220.60 L540.88,221.10 L540.95,221.60 L541.04,222.10 L541.13,222.60 L541.22,223.10 L541.32,223.60 L541.41,224.10 L541.50,224.60 L541.59,225.10 L541.67,225.60 L541.75,226.10 L541.82,226.60 L541.90,227.10 L541.97,227.60 L542.04,228.10 L542.11,228.60 L542.18,229.10 L542.25,229.60 L542.32,230.10 L542.39,230.60 L542.46,231.10 L542.53,231.60 L542.60,232.10 L542.67,232.60 L542.74,233.10 L542.80,233.60 L542.87,234.10 L542.94,234.60 L543.01,235.10 L543.08,235.60 L543.14,236.10 L543.21,236.60 L543.28,237.10 L543.35,237.60 L543.42,238.10 L543.49,238.60 L543.57,239.10 L543.64,239.60 L543.72,240.10 L543.80,240.60 L543.87,241.10 L543.95,241.60 L544.03,242.10 L544.12,242.60 L544.20,243.10 L544.28,243.60 L544.36,244.10 L544.44,244.60 L544.51,245.10 L544.59,245.60 L544.66,246.10 L544.73,246.60 L544.80,247.10 L544.87,247.60 L544.94,248.10 L545.00,248.60 L545.07,249.10 L545.13,249.60 L545.19,250.10 L545.25,250.60 L545.32,251.10 L545.38,251.60 L545.44,252.10 L545.50,252.60 L545.55,253.10 L545.61,253.60 L545.67,254.10 L545.73,254.60 L545.78,255.10 L545.84,255.60 L545.90,256.10 L545.95,256.60 L546.00,257.10 L546.06,257.60 L546.11,258.10 L546.17,258.60 L546.22,259.10 L546.28,259.60 L546.34,260.10 L546.39,260.60 L546.45,261.10 L546.52,261.60 L546.58,262.10 L546.64,262.60 L546.71,263.10 L546.77,263.60 L546.84,264.10 L546.91,264.60 L546.98,265.10 L547.05,265.60 L547.12,266.10 L547.19,266.60 L547.26,267.10 L547.33,267.60 L547.40,268.10 L547.47,268.60 L547.54,269.10 L547.62,269.60 L547.69,270.10 L547.76,270.60 L547.84,271.10 L547.91,271.60 L547.98,272.10 L548.06,272.60 L548.13,273.10 L548.21,273.60 L548.29,274.10 L548.36,274.60 L548.44,275.10 L548.51,275.60 L548.59,276.10 L548.66,276.60 L548.73,277.10 L548.81,277.60 L548.89,278.10 L548.96,278.60 L549.04,279.10 L549.11,279.60 L549.19,280.10 L549.26,280.60 L549.34,281.10 L549.41,281.60 L549.48,282.10 L549.56,282.60 L549.63,283.10 L549.70,283.60 L549.77,284.10 L549.84,284.60 L549.91,285.10 L549.98,285.60 L550.05,286.10 L550.12,286.60 L550.19,287.10 L550.26,287.60 L550.33,288.10 L550.39,288.60 L550.46,289.10 L550.53,289.60 L550.59,290.10 L550.65,290.60 L550.71,291.10 L550.77,291.60 L550.83,292.10 L550.89,292.60 L550.94,293.10 L551.00,293.60 L551.05,294.10 L551.11,294.60 L551.16,295.10 L551.21,295.60 L551.26,296.10 L551.32,296.60 L551.37,297.10 L551.42,297.60 L551.48,298.10 L551.54,298.60 L551.60,299.10 L551.66,299.60 L551.72,300.10 L551.78,300.60 L551.84,301.10 L551.90,301.60 L551.95,302.10 L552.00,302.60 L552.05,303.10 L552.09,303.60 L552.12,304.10 L552.14,304.60 L552.16,305.10 L552.18,305.60 L552.19,306.10 L552.21,306.60 L552.22,307.10 L552.24,307.60 L552.25,308.10 L552.26,308.60 L552.27,309.10 L552.28,309.60 L552.29,310.10 L552.29,310.60 L552.30,311.10 L552.30,311.60 L552.30,312.10 L552.30,312.60 L552.30,313.10 L552.30,313.60 L552.30,314.10 L552.30,314.60 L552.30,315.10 L552.30,315.60 L552.30,316.10 L552.30,316.60 L552.30,317.10 L552.30,317.60 L552.30,318.10 L552.30,318.60 L552.30,319.10 L552.30,319.60 L552.30,320.10 L552.30,320.60 L552.30,321.10 L552.30,321.60 L552.30,322.10 L552.30,322.60 L552.30,323.10 L552.30,323.60 L552.30,324.10 L552.30,324.60 L552.30,325.10 L552.30,325.60 L552.30,326.10 L552.30,326.60 L552.30,327.10 L552.30,327.60 L552.30,328.10 L552.30,328.60 L552.30,329.10 L552.30,329.60 L552.30,330.10 L552.30,330.60 L552.30,331.10 L552.30,331.60 L552.30,332.10 L552.30,332.60 L552.30,333.10 L552.30,333.60 L552.30,334.10 L552.30,334.60 L552.30,335.10 L552.30,335.60 L552.29,336.10 L552.29,336.60 L552.29,337.10 L552.29,337.60 L552.29,338.10 L552.29,338.60 L552.29,339.10 L552.29,339.60 L552.29,340.10 L552.28,340.60 L552.28,341.10 L552.28,341.60 L552.28,342.10 L552.28,342.60 L552.28,343.10 L552.28,343.60 L552.27,344.10 L552.27,344.60 L552.27,345.10 L552.27,345.60 L552.27,346.10 L552.26,346.60 L552.26,347.10 L552.26,347.60 L552.26,348.10 L552.26,348.60 L552.25,349.10 L552.25,349.60 L552.25,350.10 L552.25,350.60 L552.24,351.10 L552.24,351.60 L552.24,352.10 L552.23,352.60 L552.23,353.10 L552.22,353.60 L552.22,354.10 L552.21,354.60 L552.21,355.10 L552.20,355.60 L552.19,356.10 L552.19,356.60 L552.18,357.10 L552.17,357.60 L552.16,358.10 L552.16,358.60 L552.15,359.10 L552.14,359.60 L552.13,360.10 L552.12,360.60 L552.12,361.10 L552.11,361.60 L552.10,362.10 L552.09,362.60 L552.08,363.10 L552.07,363.60 L552.05,364.10 L552.04,364.60 L552.03,365.10 L552.01,365.60 L552.00,366.10 L551.98,366.60 L551.97,367.10 L551.95,367.60 L551.94,368.10 L551.93,368.60 L551.92,369.10 L551.91,369.60 L551.90,370.10 L551.89,370.60 L551.88,371.10 L551.87,371.60 L551.86,372.10 L551.85,372.60 L551.85,373.10 L551.84,373.60 L551.83,374.10 L551.82,374.60 L551.82,375.10 L551.81,375.60 L551.81,376.10 L551.80,376.60 L551.80,377.10 L551.80,377.60 L551.80,378.10 L551.80,378.60 L551.81,379.10 L551.82,379.60 L551.83,380.10 L551.84,380.60 L551.85,381.10 L551.86,381.60 L551.87,382.10 L551.89,382.60 L551.90,383.10 L551.92,383.60 L551.93,384.10 L551.94,384.60 L551.95,385.10 L551.96,385.60 L551.98,386.10 L551.99,386.60 L552.00,387.10 L552.02,387.60 L552.03,388.10 L552.05,388.60 L552.06,389.10 L552.07,389.60 L552.09,390.10 L552.10,390.60 L552.12,391.10 L552.13,391.60 L552.14,392.10 L552.15,392.60 L552.17,393.10 L552.18,393.60 L552.19,394.10 L552.19,394.60 L552.20,395.10 L552.21,395.60 L552.21,396.10 L552.22,396.60 L552.23,397.10 L552.23,397.60 L552.24,398.10 L552.24,398.60 L552.25,399.10 L552.25,399.60 L552.26,400.10 L552.26,400.60 L552.27,401.10 L552.27,401.60 L552.28,402.10 L552.28,402.60 L552.29,403.10 L552.29,403.60 L552.29,404.10 L552.30,404.60 L552.30,405.10 L552.30,405.60 L552.31,406.10 L552.31,406.60 L552.32,407.10 L552.32,407.60 L552.32,408.10 L552.33,408.60 L552.33,409.10 L552.33,409.60 L552.34,410.10 L552.34,410.60 L552.34,411.10 L552.34,411.60 L552.35,412.10 L552.35,412.60 L552.35,412.80 L552.65,412.80 L552.65,412.60 L552.65,412.10 L552.66,411.60 L552.66,411.10 L552.66,410.60 L552.66,410.10 L552.67,409.60 L552.67,409.10 L552.67,408.60 L552.68,408.10 L552.68,407.60 L552.68,407.10 L552.69,406.60 L552.69,406.10 L552.70,405.60 L552.70,405.10 L552.70,404.60 L552.71,404.10 L552.71,403.60 L552.71,403.10 L552.72,402.60 L552.72,402.10 L552.73,401.60 L552.73,401.10 L552.74,400.60 L552.74,400.10 L552.75,399.60 L552.75,399.10 L552.76,398.60 L552.76,398.10 L552.77,397.60 L552.77,397.10 L552.78,396.60 L552.79,396.10 L552.79,395.60 L552.80,395.10 L552.81,394.60 L552.81,394.10 L552.82,393.60 L552.83,393.10 L552.85,392.60 L552.86,392.10 L552.87,391.60 L552.88,391.10 L552.90,390.60 L552.91,390.10 L552.93,389.60 L552.94,389.10 L552.95,388.60 L552.97,388.10 L552.98,387.60 L553.00,387.10 L553.01,386.60 L553.02,386.10 L553.04,385.60 L553.05,385.10 L553.06,384.60 L553.07,384.10 L553.08,383.60 L553.10,383.10 L553.11,382.60 L553.13,382.10 L553.14,381.60 L553.15,381.10 L553.16,380.60 L553.17,380.10 L553.18,379.60 L553.19,379.10 L553.20,378.60 L553.20,378.10 L553.20,377.60 L553.20,377.10 L553.20,376.60 L553.19,376.10 L553.19,375.60 L553.18,375.10 L553.18,374.60 L553.17,374.10 L553.16,373.60 L553.15,373.10 L553.15,372.60 L553.14,372.10 L553.13,371.60 L553.12,371.10 L553.11,370.60 L553.10,370.10 L553.09,369.60 L553.08,369.10 L553.07,368.60 L553.06,368.10 L553.05,367.60 L553.03,367.10 L553.02,366.60 L553.00,366.10 L552.99,365.60 L552.97,365.10 L552.96,364.60 L552.95,364.10 L552.93,363.60 L552.92,363.10 L552.91,362.60 L552.90,362.10 L552.89,361.60 L552.88,361.10 L552.88,360.60 L552.87,360.10 L552.86,359.60 L552.85,359.10 L552.84,358.60 L552.84,358.10 L552.83,357.60 L552.82,357.10 L552.81,356.60 L552.81,356.10 L552.80,355.60 L552.79,355.10 L552.79,354.60 L552.78,354.10 L552.78,353.60 L552.77,353.10 L552.77,352.60 L552.76,352.10 L552.76,351.60 L552.76,351.10 L552.75,350.60 L552.75,350.10 L552.75,349.60 L552.75,349.10 L552.74,348.60 L552.74,348.10 L552.74,347.60 L552.74,347.10 L552.74,346.60 L552.73,346.10 L552.73,345.60 L552.73,345.10 L552.73,344.60 L552.73,344.10 L552.72,343.60 L552.72,343.10 L552.72,342.60 L552.72,342.10 L552.72,341.60 L552.72,341.10 L552.72,340.60 L552.71,340.10 L552.71,339.60 L552.71,339.10 L552.71,338.60 L552.71,338.10 L552.71,337.60 L552.71,337.10 L552.71,336.60 L552.71,336.10 L552.70,335.60 L552.70,335.10 L552.70,334.60 L552.70,334.10 L552.70,333.60 L552.70,333.10 L552.70,332.60 L552.70,332.10 L552.70,331.60 L552.70,331.10 L552.70,330.60 L552.70,330.10 L552.70,329.60 L552.70,329.10 L552.70,328.60 L552.70,328.10 L552.70,327.60 L552.70,327.10 L552.70,326.60 L552.70,326.10 L552.70,325.60 L552.70,325.10 L552.70,324.60 L552.70,324.10 L552.70,323.60 L552.70,323.10 L552.70,322.60 L552.70,322.10 L552.70,321.60 L552.70,321.10 L552.70,320.60 L552.70,320.10 L552.70,319.60 L552.70,319.10 L552.70,318.60 L552.70,318.10 L552.70,317.60 L552.70,317.10 L552.70,316.60 L552.70,316.10 L552.70,315.60 L552.70,315.10 L552.70,314.60 L552.70,314.10 L552.70,313.60 L552.70,313.10 L552.70,312.60 L552.70,312.10 L552.70,311.60 L552.70,311.10 L552.71,310.60 L552.71,310.10 L552.72,309.60 L552.73,309.10 L552.74,308.60 L552.75,308.10 L552.76,307.60 L552.78,307.10 L552.79,306.60 L552.81,306.10 L552.82,305.60 L552.84,305.10 L552.86,304.60 L552.88,304.10 L552.91,303.60 L552.95,303.10 L553.00,302.60 L553.05,302.10 L553.10,301.60 L553.16,301.10 L553.22,300.60 L553.28,300.10 L553.34,299.60 L553.40,299.10 L553.46,298.60 L553.52,298.10 L553.58,297.60 L553.63,297.10 L553.68,296.60 L553.74,296.10 L553.79,295.60 L553.84,295.10 L553.89,294.60 L553.95,294.10 L554.00,293.60 L554.06,293.10 L554.11,292.60 L554.17,292.10 L554.23,291.60 L554.29,291.10 L554.35,290.60 L554.41,290.10 L554.47,289.60 L554.54,289.10 L554.61,288.60 L554.67,288.10 L554.74,287.60 L554.81,287.10 L554.88,286.60 L554.95,286.10 L555.02,285.60 L555.09,285.10 L555.16,284.60 L555.23,284.10 L555.30,283.60 L555.37,283.10 L555.44,282.60 L555.52,282.10 L555.59,281.60 L555.66,281.10 L555.74,280.60 L555.81,280.10 L555.89,279.60 L555.96,279.10 L556.04,278.60 L556.11,278.10 L556.19,277.60 L556.27,277.10 L556.34,276.60 L556.41,276.10 L556.49,275.60 L556.56,275.10 L556.64,274.60 L556.71,274.10 L556.79,273.60 L556.87,273.10 L556.94,272.60 L557.02,272.10 L557.09,271.60 L557.16,271.10 L557.24,270.60 L557.31,270.10 L557.38,269.60 L557.46,269.10 L557.53,268.60 L557.60,268.10 L557.67,267.60 L557.74,267.10 L557.81,266.60 L557.88,266.10 L557.95,265.60 L558.02,265.10 L558.09,264.60 L558.16,264.10 L558.23,263.60 L558.29,263.10 L558.36,262.60 L558.42,262.10 L558.48,261.60 L558.55,261.10 L558.61,260.60 L558.66,260.10 L558.72,259.60 L558.78,259.10 L558.83,258.60 L558.89,258.10 L558.94,257.60 L559.00,257.10 L559.05,256.60 L559.10,256.10 L559.16,255.60 L559.22,255.10 L559.27,254.60 L559.33,254.10 L559.39,253.60 L559.45,253.10 L559.50,252.60 L559.56,252.10 L559.62,251.60 L559.68,251.10 L559.75,250.60 L559.81,250.10 L559.87,249.60 L559.93,249.10 L560.00,248.60 L560.06,248.10 L560.13,247.60 L560.20,247.10 L560.27,246.60 L560.34,246.10 L560.41,245.60 L560.49,245.10 L560.56,244.60 L560.64,244.10 L560.72,243.60 L560.80,243.10 L560.88,242.60 L560.97,242.10 L561.05,241.60 L561.13,241.10 L561.20,240.60 L561.28,240.10 L561.36,239.60 L561.43,239.10 L561.51,238.60 L561.58,238.10 L561.65,237.60 L561.72,237.10 L561.79,236.60 L561.86,236.10 L561.92,235.60 L561.99,235.10 L562.06,234.60 L562.13,234.10 L562.20,233.60 L562.26,233.10 L562.33,232.60 L562.40,232.10 L562.47,231.60 L562.54,231.10 L562.61,230.60 L562.68,230.10 L562.75,229.60 L562.82,229.10 L562.89,228.60 L562.96,228.10 L563.03,227.60 L563.10,227.10 L563.18,226.60 L563.25,226.10 L563.33,225.60 L563.41,225.10 L563.50,224.60 L563.59,224.10 L563.68,223.60 L563.78,223.10 L563.87,222.60 L563.96,222.10 L564.05,221.60 L564.12,221.10 L564.18,220.60 L564.23,220.10 L564.26,219.60 L564.29,219.10 L564.30,218.60 L564.31,218.10 L564.32,217.60 L564.32,217.10 L564.31,216.60 L564.31,216.10 L564.29,215.60 L564.28,215.10 L564.25,214.60 L564.23,214.10 L564.20,213.60 L564.16,213.10 L564.12,212.60 L564.08,212.10 L564.03,211.60 L563.97,211.10 L563.91,210.60 L563.86,210.10 L563.79,209.60 L563.73,209.10 L563.66,208.60 L563.59,208.10 L563.51,207.60 L563.44,207.10 L563.35,206.60 L563.27,206.10 L563.18,205.60 L563.09,205.10 L563.00,204.60 L562.91,204.10 L562.81,203.60 L562.71,203.10 L562.61,202.60 L562.51,202.10 L562.40,201.60 L562.29,201.10 L562.17,200.60 L562.05,200.10 L561.93,199.60 L561.80,199.10 L561.67,198.60 L561.54,198.10 L561.41,197.60 L561.28,197.10 L561.14,196.60 L561.00,196.10 L560.87,195.60 L560.73,195.10 L560.59,194.60 L560.45,194.10 L560.31,193.60 L560.17,193.10 L560.03,192.60 L559.89,192.10 L559.75,191.60 L559.60,191.10 L559.46,190.60 L559.31,190.10 L559.16,189.60 L559.01,189.10 L558.86,188.60 L558.71,188.10 L558.55,187.60 L558.40,187.10 L558.24,186.60 L558.08,186.10 L557.92,185.60 L557.75,185.10 L557.59,184.60 L557.43,184.10 L557.27,183.60 L557.11,183.10 L556.96,182.60 L556.80,182.10 L556.65,181.60 L556.50,181.10 L556.37,180.60 L556.24,180.10 L556.12,179.60 L556.02,179.10 L555.92,178.60 L555.82,178.10 L555.73,177.60 L555.64,177.10 L555.55,176.60 L555.46,176.10 L555.37,175.60 L555.28,175.10 L555.20,174.60 L555.11,174.10 L555.02,173.60 L554.94,173.10 L554.85,172.60 L554.76,172.10 L554.68,171.60 L554.59,171.10 L554.51,170.60 L554.43,170.10 L554.34,169.60 L554.27,169.10 L554.19,168.60 L554.11,168.10 L554.03,167.60 L553.96,167.10 L553.89,166.60 L553.82,166.10 L553.75,165.60 L553.69,165.10 L553.63,164.60 L553.57,164.10 L553.52,163.60 L553.46,163.10 L553.41,162.60 L553.36,162.10 L553.31,161.60 L553.26,161.10 L553.21,160.60 L553.16,160.10 L553.10,159.60 L553.06,159.10 L553.01,158.60 L552.97,158.10 L552.94,157.60 L552.90,157.10 L552.87,156.60 L552.85,156.10 L552.82,155.60 L552.80,155.10 L552.77,154.60 L552.75,154.10 L552.74,153.60 L552.72,153.10 L552.70,152.60 L552.68,152.10 L552.67,151.60 L552.66,151.10 L552.65,150.60 L552.65,150.10 L552.65,149.60 L552.65,149.10 L552.65,148.60 L552.65,148.10 L552.65,147.60 L552.65,147.10 L552.65,146.60 Z" fill="#669999" stroke="#404040" stroke-width="1.95" stroke-linejoin="round"/>
<path d="M169.60,105.10 L173.75,108.80 L169.60,112.50 L165.45,108.80 Z M169.60,130.70 L173.75,134.40 L169.60,138.10 L165.45,134.40 Z M169.60,140.50 L173.75,144.20 L169.60,147.90 L165.45,144.20 Z M169.60,155.30 L173.75,159.00 L169.60,162.70 L165.45,159.00 Z M169.60,316.30 L173.75,320.00 L169.60,323.70 L165.45,320.00 Z M169.60,350.30 L173.75,354.00 L169.60,357.70 L165.45,354.00 Z M169.60,353.70 L173.75,357.40 L169.60,361.10 L165.45,357.40 Z M169.60,373.60 L173.75,377.30 L169.60,381.00 L165.45,377.30 Z M169.60,432.80 L173.75,436.50 L169.60,440.20 L165.45,436.50 Z M169.60,436.20 L173.75,439.90 L169.60,443.60 L165.45,439.90 Z M169.60,168.30 L173.75,172.00 L169.60,175.70 L165.45,172.00 Z M169.60,168.92 L173.75,172.62 L169.60,176.32 L165.45,172.62 Z M169.60,169.54 L173.75,173.24 L169.60,176.94 L165.45,173.24 Z M169.60,170.16 L173.75,173.86 L169.60,177.56 L165.45,173.86 Z M169.60,170.78 L173.75,174.48 L169.60,178.18 L165.45,174.48 Z M169.60,171.40 L173.75,175.10 L169.60,178.80 L165.45,175.10 Z M169.60,172.02 L173.75,175.72 L169.60,179.42 L165.45,175.72 Z M169.60,172.64 L173.75,176.34 L169.60,180.04 L165.45,176.34 Z M169.60,173.26 L173.75,176.96 L169.60,180.66 L165.45,176.96 Z M169.60,173.88 L173.75,177.58 L169.60,181.28 L165.45,177.58 Z M169.60,174.50 L173.75,178.20 L169.60,181.90 L165.45,178.20 Z M169.60,176.90 L173.75,180.60 L169.60,184.30 L165.45,180.60 Z M169.60,177.50 L173.75,181.20 L169.60,184.90 L165.45,181.20 Z M169.60,178.10 L173.75,181.80 L169.60,185.50 L165.45,181.80 Z M169.60,178.70 L173.75,182.40 L169.60,186.10 L165.45,182.40 Z M169.60,179.30 L173.75,183.00 L169.60,186.70 L165.45,183.00 Z M169.60,179.90 L173.75,183.60 L169.60,187.30 L165.45,183.60 Z M169.60,180.50 L173.75,184.20 L169.60,187.90 L165.45,184.20 Z M169.60,181.10 L173.75,184.80 L169.60,188.50 L165.45,184.80 Z M169.60,181.70 L173.75,185.40 L169.60,189.10 L165.45,185.40 Z M169.60,182.30 L173.75,186.00 L169.60,189.70 L165.45,186.00 Z M169.60,182.90 L173.75,186.60 L169.60,190.30 L165.45,186.60 Z M169.60,183.50 L173.75,187.20 L169.60,190.90 L165.45,187.20 Z M169.60,184.10 L173.75,187.80 L169.60,191.50 L165.45,187.80 Z M169.60,186.50 L173.75,190.20 L169.60,193.90 L165.45,190.20 Z M169.60,187.08 L173.75,190.78 L169.60,194.48 L165.45,190.78 Z M169.60,187.66 L173.75,191.36 L169.60,195.06 L165.45,191.36 Z M169.60,188.24 L173.75,191.94 L169.60,195.64 L165.45,191.94 Z M169.60,188.81 L173.75,192.51 L169.60,196.21 L165.45,192.51 Z M169.60,189.39 L173.75,193.09 L169.60,196.79 L165.45,193.09 Z M169.60,189.97 L173.75,193.67 L169.60,197.37 L165.45,193.67 Z M169.60,190.55 L173.75,194.25 L169.60,197.95 L165.45,194.25 Z M169.60,191.13 L173.75,194.83 L169.60,198.53 L165.45,194.83 Z M169.60,191.71 L173.75,195.41 L169.60,199.11 L165.45,195.41 Z M169.60,192.29 L173.75,195.99 L169.60,199.69 L165.45,195.99 Z M169.60,192.86 L173.75,196.56 L169.60,200.26 L165.45,196.56 Z M169.60,193.44 L173.75,197.14 L169.60,200.84 L165.45,197.14 Z M169.60,194.02 L173.75,197.72 L169.60,201.42 L165.45,197.72 Z M169.60,194.60 L173.75,198.30 L169.60,202.00 L165.45,198.30 Z M169.60,197.00 L173.75,200.70 L169.60,204.40 L165.45,200.70 Z M169.60,197.45 L173.75,201.15 L169.60,204.85 L165.45,201.15 Z M169.60,197.90 L173.75,201.60 L169.60,205.30 L165.45,201.60 Z M169.60,198.35 L173.75,202.05 L169.60,205.75 L165.45,202.05 Z M169.60,198.80 L173.75,202.50 L169.60,206.20 L165.45,202.50 Z M169.60,199.25 L173.75,202.95 L169.60,206.65 L165.45,202.95 Z M169.60,199.70 L173.75,203.40 L169.60,207.10 L165.45,203.40 Z M169.60,200.15 L173.75,203.85 L169.60,207.55 L165.45,203.85 Z M169.60,200.60 L173.75,204.30 L169.60,208.00 L165.45,204.30 Z M169.60,201.05 L173.75,204.75 L169.60,208.45 L165.45,204.75 Z M169.60,201.50 L173.75,205.20 L169.60,208.90 L165.45,205.20 Z M169.60,201.95 L173.75,205.65 L169.60,209.35 L165.45,205.65 Z M169.60,202.40 L173.75,206.10 L169.60,209.80 L165.45,206.10 Z M169.60,202.85 L173.75,206.55 L169.60,210.25 L165.45,206.55 Z M169.60,203.30 L173.75,207.00 L169.60,210.70 L165.45,207.00 Z M169.60,203.75 L173.75,207.45 L169.60,211.15 L165.45,207.45 Z M169.60,204.20 L173.75,207.90 L169.60,211.60 L165.45,207.90 Z M169.60,204.65 L173.75,208.35 L169.60,212.05 L165.45,208.35 Z M169.60,205.10 L173.75,208.80 L169.60,212.50 L165.45,208.80 Z M169.60,205.55 L173.75,209.25 L169.60,212.95 L165.45,209.25 Z M169.60,206.00 L173.75,209.70 L169.60,213.40 L165.45,209.70 Z M169.60,206.45 L173.75,210.15 L169.60,213.85 L165.45,210.15 Z M169.60,206.90 L173.75,210.60 L169.60,214.30 L165.45,210.60 Z M169.60,207.35 L173.75,211.05 L169.60,214.75 L165.45,211.05 Z M169.60,207.80 L173.75,211.50 L169.60,215.20 L165.45,211.50 Z M169.60,208.25 L173.75,211.95 L169.60,215.65 L165.45,211.95 Z M169.60,208.70 L173.75,212.40 L169.60,216.10 L165.45,212.40 Z M169.60,209.15 L173.75,212.85 L169.60,216.55 L165.45,212.85 Z M169.60,209.60 L173.75,213.30 L169.60,217.00 L165.45,213.30 Z M169.60,210.05 L173.75,213.75 L169.60,217.45 L165.45,213.75 Z M169.60,210.50 L173.75,214.20 L169.60,217.90 L165.45,214.20 Z M169.60,210.95 L173.75,214.65 L169.60,218.35 L165.45,214.65 Z M169.60,211.40 L173.75,215.10 L169.60,218.80 L165.45,215.10 Z M169.60,211.85 L173.75,215.55 L169.60,219.25 L165.45,215.55 Z M169.60,212.30 L173.75,216.00 L169.60,219.70 L165.45,216.00 Z M169.60,212.75 L173.75,216.45 L169.60,220.15 L165.45,216.45 Z M169.60,213.20 L173.75,216.90 L169.60,220.60 L165.45,216.90 Z M169.60,213.65 L173.75,217.35 L169.60,221.05 L165.45,217.35 Z M169.60,214.10 L173.75,217.80 L169.60,221.50 L165.45,217.80 Z M169.60,214.55 L173.75,218.25 L169.60,221.95 L165.45,218.25 Z M169.60,215.00 L173.75,218.70 L169.60,222.40 L165.45,218.70 Z M169.60,215.45 L173.75,219.15 L169.60,222.85 L165.45,219.15 Z M169.60,215.90 L173.75,219.60 L169.60,223.30 L165.45,219.60 Z M169.60,216.35 L173.75,220.05 L169.60,223.75 L165.45,220.05 Z M169.60,216.80 L173.75,220.50 L169.60,224.20 L165.45,220.50 Z M169.60,217.25 L173.75,220.95 L169.60,224.65 L165.45,220.95 Z M169.60,217.70 L173.75,221.40 L169.60,225.10 L165.45,221.40 Z M169.60,218.15 L173.75,221.85 L169.60,225.55 L165.45,221.85 Z M169.60,218.60 L173.75,222.30 L169.60,226.00 L165.45,222.30 Z M169.60,219.05 L173.75,222.75 L169.60,226.45 L165.45,222.75 Z M169.60,219.50 L173.75,223.20 L169.60,226.90 L165.45,223.20 Z M169.60,219.95 L173.75,223.65 L169.60,227.35 L165.45,223.65 Z M169.60,220.40 L173.75,224.10 L169.60,227.80 L165.45,224.10 Z M169.60,220.85 L173.75,224.55 L169.60,228.25 L165.45,224.55 Z M169.60,221.30 L173.75,225.00 L169.60,228.70 L165.45,225.00 Z M169.60,221.75 L173.75,225.45 L169.60,229.15 L165.45,225.45 Z M169.60,222.20 L173.75,225.90 L169.60,229.60 L165.45,225.90 Z M169.60,222.65 L173.75,226.35 L169.60,230.05 L165.45,226.35 Z M169.60,223.10 L173.75,226.80 L169.60,230.50 L165.45,226.80 Z M169.60,223.55 L173.75,227.25 L169.60,230.95 L165.45,227.25 Z M169.60,224.00 L173.75,227.70 L169.60,231.40 L165.45,227.70 Z M169.60,224.45 L173.75,228.15 L169.60,231.85 L165.45,228.15 Z M169.60,224.90 L173.75,228.60 L169.60,232.30 L165.45,228.60 Z M169.60,225.35 L173.75,229.05 L169.60,232.75 L165.45,229.05 Z M169.60,225.80 L173.75,229.50 L169.60,233.20 L165.45,229.50 Z M169.60,226.25 L173.75,229.95 L169.60,233.65 L165.45,229.95 Z M169.60,226.70 L173.75,230.40 L169.60,234.10 L165.45,230.40 Z M169.60,227.15 L173.75,230.85 L169.60,234.55 L165.45,230.85 Z M169.60,227.60 L173.75,231.30 L169.60,235.00 L165.45,231.30 Z M169.60,228.05 L173.75,231.75 L169.60,235.45 L165.45,231.75 Z M169.60,228.50 L173.75,232.20 L169.60,235.90 L165.45,232.20 Z M169.60,228.95 L173.75,232.65 L169.60,236.35 L165.45,232.65 Z M169.60,229.40 L173.75,233.10 L169.60,236.80 L165.45,233.10 Z M169.60,229.85 L173.75,233.55 L169.60,237.25 L165.45,233.55 Z M169.60,230.30 L173.75,234.00 L169.60,237.70 L165.45,234.00 Z M169.60,230.75 L173.75,234.45 L169.60,238.15 L165.45,234.45 Z M169.60,231.20 L173.75,234.90 L169.60,238.60 L165.45,234.90 Z M169.60,231.65 L173.75,235.35 L169.60,239.05 L165.45,235.35 Z M169.60,232.10 L173.75,235.80 L169.60,239.50 L165.45,235.80 Z M169.60,232.55 L173.75,236.25 L169.60,239.95 L165.45,236.25 Z M169.60,233.00 L173.75,236.70 L169.60,240.40 L165.45,236.70 Z M169.60,233.45 L173.75,237.15 L169.60,240.85 L165.45,237.15 Z M169.60,233.90 L173.75,237.60 L169.60,241.30 L165.45,237.60 Z M169.60,234.35 L173.75,238.05 L169.60,241.75 L165.45,238.05 Z M169.60,234.80 L173.75,238.50 L169.60,242.20 L165.45,238.50 Z M169.60,235.25 L173.75,238.95 L169.60,242.65 L165.45,238.95 Z M169.60,235.70 L173.75,239.40 L169.60,243.10 L165.45,239.40 Z M169.60,236.15 L173.75,239.85 L169.60,243.55 L165.45,239.85 Z M169.60,236.60 L173.75,240.30 L169.60,244.00 L165.45,240.30 Z M169.60,237.05 L173.75,240.75 L169.60,244.45 L165.45,240.75 Z M169.60,237.50 L173.75,241.20 L169.60,244.90 L165.45,241.20 Z M169.60,237.95 L173.75,241.65 L169.60,245.35 L165.45,241.65 Z M169.60,238.40 L173.75,242.10 L169.60,245.80 L165.45,242.10 Z M169.60,238.85 L173.75,242.55 L169.60,246.25 L165.45,242.55 Z M169.60,239.30 L173.75,243.00 L169.60,246.70 L165.45,243.00 Z M169.60,239.75 L173.75,243.45 L169.60,247.15 L165.45,243.45 Z M169.60,240.20 L173.75,243.90 L169.60,247.60 L165.45,243.90 Z M169.60,240.65 L173.75,244.35 L169.60,248.05 L165.45,244.35 Z M169.60,241.10 L173.75,244.80 L169.60,248.50 L165.45,244.80 Z M169.60,241.55 L173.75,245.25 L169.60,248.95 L165.45,245.25 Z M169.60,242.00 L173.75,245.70 L169.60,249.40 L165.45,245.70 Z M169.60,242.45 L173.75,246.15 L169.60,249.85 L165.45,246.15 Z M169.60,242.90 L173.75,246.60 L169.60,250.30 L165.45,246.60 Z M169.60,243.35 L173.75,247.05 L169.60,250.75 L165.45,247.05 Z M169.60,243.80 L173.75,247.50 L169.60,251.20 L165.45,247.50 Z M169.60,244.25 L173.75,247.95 L169.60,251.65 L165.45,247.95 Z M169.60,244.70 L173.75,248.40 L169.60,252.10 L165.45,248.40 Z M169.60,245.15 L173.75,248.85 L169.60,252.55 L165.45,248.85 Z M169.60,245.60 L173.75,249.30 L169.60,253.00 L165.45,249.30 Z M169.60,246.05 L173.75,249.75 L169.60,253.45 L165.45,249.75 Z M169.60,246.50 L173.75,250.20 L169.60,253.90 L165.45,250.20 Z M169.60,246.95 L173.75,250.65 L169.60,254.35 L165.45,250.65 Z M169.60,247.40 L173.75,251.10 L169.60,254.80 L165.45,251.10 Z M169.60,247.85 L173.75,251.55 L169.60,255.25 L165.45,251.55 Z M169.60,248.30 L173.75,252.00 L169.60,255.70 L165.45,252.00 Z M169.60,248.75 L173.75,252.45 L169.60,256.15 L165.45,252.45 Z M169.60,249.20 L173.75,252.90 L169.60,256.60 L165.45,252.90 Z M169.60,249.65 L173.75,253.35 L169.60,257.05 L165.45,253.35 Z M169.60,250.10 L173.75,253.80 L169.60,257.50 L165.45,253.80 Z M169.60,250.55 L173.75,254.25 L169.60,257.95 L165.45,254.25 Z M169.60,251.00 L173.75,254.70 L169.60,258.40 L165.45,254.70 Z M169.60,251.45 L173.75,255.15 L169.60,258.85 L165.45,255.15 Z M169.60,251.90 L173.75,255.60 L169.60,259.30 L165.45,255.60 Z M169.60,252.35 L173.75,256.05 L169.60,259.75 L165.45,256.05 Z M169.60,252.80 L173.75,256.50 L169.60,260.20 L165.45,256.50 Z M169.60,253.25 L173.75,256.95 L169.60,260.65 L165.45,256.95 Z M169.60,253.70 L173.75,257.40 L169.60,261.10 L165.45,257.40 Z M169.60,254.15 L173.75,257.85 L169.60,261.55 L165.45,257.85 Z M169.60,254.60 L173.75,258.30 L169.60,262.00 L165.45,258.30 Z M169.60,255.05 L173.75,258.75 L169.60,262.45 L165.45,258.75 Z M169.60,255.50 L173.75,259.20 L169.60,262.90 L165.45,259.20 Z M169.60,255.95 L173.75,259.65 L169.60,263.35 L165.45,259.65 Z M169.60,256.40 L173.75,260.10 L169.60,263.80 L165.45,260.10 Z M169.60,256.85 L173.75,260.55 L169.60,264.25 L165.45,260.55 Z M169.60,257.30 L173.75,261.00 L169.60,264.70 L165.45,261.00 Z M169.60,258.80 L173.75,262.50 L169.60,266.20 L165.45,262.50 Z M169.60,261.50 L173.75,265.20 L169.60,268.90 L165.45,265.20 Z M169.60,264.10 L173.75,267.80 L169.60,271.50 L165.45,267.80 Z M169.60,266.70 L173.75,270.40 L169.60,274.10 L165.45,270.40 Z M169.60,269.30 L173.75,273.00 L169.60,276.70 L165.45,273.00 Z M169.60,271.90 L173.75,275.60 L169.60,279.30 L165.45,275.60 Z M169.60,274.30 L173.75,278.00 L169.60,281.70 L165.45,278.00 Z M169.60,276.90 L173.75,280.60 L169.60,284.30 L165.45,280.60 Z M169.60,279.30 L173.75,283.00 L169.60,286.70 L165.45,283.00 Z M169.60,281.70 L173.75,285.40 L169.60,289.10 L165.45,285.40 Z M169.60,287.50 L173.75,291.20 L169.60,294.90 L165.45,291.20 Z M169.60,288.90 L173.75,292.60 L169.60,296.30 L165.45,292.60 Z M169.60,290.30 L173.75,294.00 L169.60,297.70 L165.45,294.00 Z M169.60,291.70 L173.75,295.40 L169.60,299.10 L165.45,295.40 Z M169.60,293.10 L173.75,296.80 L169.60,300.50 L165.45,296.80 Z" fill="#404040"/>
<path d="M361.10,105.10 L365.25,108.80 L361.10,112.50 L356.95,108.80 Z M361.10,130.70 L365.25,134.40 L361.10,138.10 L356.95,134.40 Z M361.10,140.50 L365.25,144.20 L361.10,147.90 L356.95,144.20 Z M361.10,155.30 L365.25,159.00 L361.10,162.70 L356.95,159.00 Z M361.10,316.30 L365.25,320.00 L361.10,323.70 L356.95,320.00 Z M361.10,350.30 L365.25,354.00 L361.10,357.70 L356.95,354.00 Z M361.10,353.70 L365.25,357.40 L361.10,361.10 L356.95,357.40 Z M361.10,373.60 L365.25,377.30 L361.10,381.00 L356.95,377.30 Z M361.10,432.80 L365.25,436.50 L361.10,440.20 L356.95,436.50 Z M361.10,436.20 L365.25,439.90 L361.10,443.60 L356.95,439.90 Z M361.10,168.30 L365.25,172.00 L361.10,175.70 L356.95,172.00 Z M361.10,168.92 L365.25,172.62 L361.10,176.32 L356.95,172.62 Z M361.10,169.54 L365.25,173.24 L361.10,176.94 L356.95,173.24 Z M361.10,170.16 L365.25,173.86 L361.10,177.56 L356.95,173.86 Z M361.10,170.78 L365.25,174.48 L361.10,178.18 L356.95,174.48 Z M361.10,171.40 L365.25,175.10 L361.10,178.80 L356.95,175.10 Z M361.10,172.02 L365.25,175.72 L361.10,179.42 L356.95,175.72 Z M361.10,172.64 L365.25,176.34 L361.10,180.04 L356.95,176.34 Z M361.10,173.26 L365.25,176.96 L361.10,180.66 L356.95,176.96 Z M361.10,173.88 L365.25,177.58 L361.10,181.28 L356.95,177.58 Z M361.10,174.50 L365.25,178.20 L361.10,181.90 L356.95,178.20 Z M361.10,176.90 L365.25,180.60 L361.10,184.30 L356.95,180.60 Z M361.10,177.50 L365.25,181.20 L361.10,184.90 L356.95,181.20 Z M361.10,178.10 L365.25,181.80 L361.10,185.50 L356.95,181.80 Z M361.10,178.70 L365.25,182.40 L361.10,186.10 L356.95,182.40 Z M361.10,179.30 L365.25,183.00 L361.10,186.70 L356.95,183.00 Z M361.10,179.90 L365.25,183.60 L361.10,187.30 L356.95,183.60 Z M361.10,180.50 L365.25,184.20 L361.10,187.90 L356.95,184.20 Z M361.10,181.10 L365.25,184.80 L361.10,188.50 L356.95,184.80 Z M361.10,181.70 L365.25,185.40 L361.10,189.10 L356.95,185.40 Z M361.10,182.30 L365.25,186.00 L361.10,189.70 L356.95,186.00 Z M361.10,182.90 L365.25,186.60 L361.10,190.30 L356.95,186.60 Z M361.10,183.50 L365.25,187.20 L361.10,190.90 L356.95,187.20 Z M361.10,184.10 L365.25,187.80 L361.10,191.50 L356.95,187.80 Z M361.10,186.50 L365.25,190.20 L361.10,193.90 L356.95,190.20 Z M361.10,187.08 L365.25,190.78 L361.10,194.48 L356.95,190.78 Z M361.10,187.66 L365.25,191.36 L361.10,195.06 L356.95,191.36 Z M361.10,188.24 L365.25,191.94 L361.10,195.64 L356.95,191.94 Z M361.10,188.81 L365.25,192.51 L361.10,196.21 L356.95,192.51 Z M361.10,189.39 L365.25,193.09 L361.10,196.79 L356.95,193.09 Z M361.10,189.97 L365.25,193.67 L361.10,197.37 L356.95,193.67 Z M361.10,190.55 L365.25,194.25 L361.10,197.95 L356.95,194.25 Z M361.10,191.13 L365.25,194.83 L361.10,198.53 L356.95,194.83 Z M361.10,191.71 L365.25,195.41 L361.10,199.11 L356.95,195.41 Z M361.10,192.29 L365.25,195.99 L361.10,199.69 L356.95,195.99 Z M361.10,192.86 L365.25,196.56 L361.10,200.26 L356.95,196.56 Z M361.10,193.44 L365.25,197.14 L361.10,200.84 L356.95,197.14 Z M361.10,194.02 L365.25,197.72 L361.10,201.42 L356.95,197.72 Z M361.10,194.60 L365.25,198.30 L361.10,202.00 L356.95,198.30 Z M361.10,197.00 L365.25,200.70 L361.10,204.40 L356.95,200.70 Z M361.10,197.45 L365.25,201.15 L361.10,204.85 L356.95,201.15 Z M361.10,197.89 L365.25,201.59 L361.10,205.29 L356.95,201.59 Z M361.10,198.34 L365.25,202.04 L361.10,205.74 L356.95,202.04 Z M361.10,198.79 L365.25,202.49 L361.10,206.19 L356.95,202.49 Z M361.10,199.24 L365.25,202.94 L361.10,206.64 L356.95,202.94 Z M361.10,199.68 L365.25,203.38 L361.10,207.08 L356.95,203.38 Z M361.10,200.13 L365.25,203.83 L361.10,207.53 L356.95,203.83 Z M361.10,200.58 L365.25,204.28 L361.10,207.98 L356.95,204.28 Z M361.10,201.03 L365.25,204.73 L361.10,208.43 L356.95,204.73 Z M361.10,201.47 L365.25,205.17 L361.10,208.87 L356.95,205.17 Z M361.10,201.92 L365.25,205.62 L361.10,209.32 L356.95,205.62 Z M361.10,202.37 L365.25,206.07 L361.10,209.77 L356.95,206.07 Z M361.10,202.81 L365.25,206.51 L361.10,210.21 L356.95,206.51 Z M361.10,203.26 L365.25,206.96 L361.10,210.66 L356.95,206.96 Z M361.10,203.71 L365.25,207.41 L361.10,211.11 L356.95,207.41 Z M361.10,204.16 L365.25,207.86 L361.10,211.56 L356.95,207.86 Z M361.10,204.60 L365.25,208.30 L361.10,212.00 L356.95,208.30 Z M361.10,205.05 L365.25,208.75 L361.10,212.45 L356.95,208.75 Z M361.10,205.50 L365.25,209.20 L361.10,212.90 L356.95,209.20 Z M361.10,205.95 L365.25,209.65 L361.10,213.35 L356.95,209.65 Z M361.10,206.39 L365.25,210.09 L361.10,213.79 L356.95,210.09 Z M361.10,206.84 L365.25,210.54 L361.10,214.24 L356.95,210.54 Z M361.10,207.29 L365.25,210.99 L361.10,214.69 L356.95,210.99 Z M361.10,207.74 L365.25,211.44 L361.10,215.14 L356.95,211.44 Z M361.10,208.18 L365.25,211.88 L361.10,215.58 L356.95,211.88 Z M361.10,208.63 L365.25,212.33 L361.10,216.03 L356.95,212.33 Z M361.10,209.08 L365.25,212.78 L361.10,216.48 L356.95,212.78 Z M361.10,209.52 L365.25,213.22 L361.10,216.92 L356.95,213.22 Z M361.10,209.97 L365.25,213.67 L361.10,217.37 L356.95,213.67 Z M361.10,210.42 L365.25,214.12 L361.10,217.82 L356.95,214.12 Z M361.10,210.87 L365.25,214.57 L361.10,218.27 L356.95,214.57 Z M361.10,211.31 L365.25,215.01 L361.10,218.71 L356.95,215.01 Z M361.10,211.76 L365.25,215.46 L361.10,219.16 L356.95,215.46 Z M361.10,212.21 L365.25,215.91 L361.10,219.61 L356.95,215.91 Z M361.10,212.66 L365.25,216.36 L361.10,220.06 L356.95,216.36 Z M361.10,213.10 L365.25,216.80 L361.10,220.50 L356.95,216.80 Z M361.10,213.55 L365.25,217.25 L361.10,220.95 L356.95,217.25 Z M361.10,214.00 L365.25,217.70 L361.10,221.40 L356.95,217.70 Z M361.10,214.44 L365.25,218.14 L361.10,221.84 L356.95,218.14 Z M361.10,214.89 L365.25,218.59 L361.10,222.29 L356.95,218.59 Z M361.10,215.34 L365.25,219.04 L361.10,222.74 L356.95,219.04 Z M361.10,215.79 L365.25,219.49 L361.10,223.19 L356.95,219.49 Z M361.10,216.23 L365.25,219.93 L361.10,223.63 L356.95,219.93 Z M361.10,216.68 L365.25,220.38 L361.10,224.08 L356.95,220.38 Z M361.10,217.13 L365.25,220.83 L361.10,224.53 L356.95,220.83 Z M361.10,217.58 L365.25,221.28 L361.10,224.98 L356.95,221.28 Z M361.10,218.02 L365.25,221.72 L361.10,225.42 L356.95,221.72 Z M361.10,218.47 L365.25,222.17 L361.10,225.87 L356.95,222.17 Z M361.10,218.92 L365.25,222.62 L361.10,226.32 L356.95,222.62 Z M361.10,219.36 L365.25,223.06 L361.10,226.76 L356.95,223.06 Z M361.10,219.81 L365.25,223.51 L361.10,227.21 L356.95,223.51 Z M361.10,220.26 L365.25,223.96 L361.10,227.66 L356.95,223.96 Z M361.10,220.71 L365.25,224.41 L361.10,228.11 L356.95,224.41 Z M361.10,221.15 L365.25,224.85 L361.10,228.55 L356.95,224.85 Z M361.10,221.60 L365.25,225.30 L361.10,229.00 L356.95,225.30 Z M361.10,222.05 L365.25,225.75 L361.10,229.45 L356.95,225.75 Z M361.10,222.50 L365.25,226.20 L361.10,229.90 L356.95,226.20 Z M361.10,222.94 L365.25,226.64 L361.10,230.34 L356.95,226.64 Z M361.10,223.39 L365.25,227.09 L361.10,230.79 L356.95,227.09 Z M361.10,223.84 L365.25,227.54 L361.10,231.24 L356.95,227.54 Z M361.10,224.29 L365.25,227.99 L361.10,231.69 L356.95,227.99 Z M361.10,224.73 L365.25,228.43 L361.10,232.13 L356.95,228.43 Z M361.10,225.18 L365.25,228.88 L361.10,232.58 L356.95,228.88 Z M361.10,225.63 L365.25,229.33 L361.10,233.03 L356.95,229.33 Z M361.10,226.07 L365.25,229.77 L361.10,233.47 L356.95,229.77 Z M361.10,226.52 L365.25,230.22 L361.10,233.92 L356.95,230.22 Z M361.10,226.97 L365.25,230.67 L361.10,234.37 L356.95,230.67 Z M361.10,227.42 L365.25,231.12 L361.10,234.82 L356.95,231.12 Z M361.10,227.86 L365.25,231.56 L361.10,235.26 L356.95,231.56 Z M361.10,228.31 L365.25,232.01 L361.10,235.71 L356.95,232.01 Z M361.10,228.76 L365.25,232.46 L361.10,236.16 L356.95,232.46 Z M361.10,229.21 L365.25,232.91 L361.10,236.61 L356.95,232.91 Z M361.10,229.65 L365.25,233.35 L361.10,237.05 L356.95,233.35 Z M361.10,230.10 L365.25,233.80 L361.10,237.50 L356.95,233.80 Z M361.10,235.00 L365.25,238.70 L361.10,242.40 L356.95,238.70 Z M361.10,236.70 L365.25,240.40 L361.10,244.10 L356.95,240.40 Z M361.10,239.30 L365.25,243.00 L361.10,246.70 L356.95,243.00 Z M361.10,241.80 L365.25,245.50 L361.10,249.20 L356.95,245.50 Z M361.10,244.30 L365.25,248.00 L361.10,251.70 L356.95,248.00 Z M361.10,246.80 L365.25,250.50 L361.10,254.20 L356.95,250.50 Z M361.10,249.20 L365.25,252.90 L361.10,256.60 L356.95,252.90 Z M361.10,251.30 L365.25,255.00 L361.10,258.70 L356.95,255.00 Z M361.10,253.30 L365.25,257.00 L361.10,260.70 L356.95,257.00 Z M361.10,254.60 L365.25,258.30 L361.10,262.00 L356.95,258.30 Z M361.10,260.30 L365.25,264.00 L361.10,267.70 L356.95,264.00 Z M361.10,261.50 L365.25,265.20 L361.10,268.90 L356.95,265.20 Z M361.10,267.70 L365.25,271.40 L361.10,275.10 L356.95,271.40 Z M361.10,271.10 L365.25,274.80 L361.10,278.50 L356.95,274.80 Z M361.10,274.20 L365.25,277.90 L361.10,281.60 L356.95,277.90 Z M361.10,280.80 L365.25,284.50 L361.10,288.20 L356.95,284.50 Z M361.10,287.30 L365.25,291.00 L361.10,294.70 L356.95,291.00 Z M361.10,288.80 L365.25,292.50 L361.10,296.20 L356.95,292.50 Z M361.10,290.30 L365.25,294.00 L361.10,297.70 L356.95,294.00 Z M361.10,291.80 L365.25,295.50 L361.10,299.20 L356.95,295.50 Z M361.10,293.20 L365.25,296.90 L361.10,300.60 L356.95,296.90 Z" fill="#404040"/>
<path d="M552.50,182.50 L556.65,186.20 L552.50,189.90 L548.35,186.20 Z M552.50,186.70 L556.65,190.40 L552.50,194.10 L548.35,190.40 Z M552.50,188.70 L556.65,192.40 L552.50,196.10 L548.35,192.40 Z M552.50,190.30 L556.65,194.00 L552.50,197.70 L548.35,194.00 Z M552.50,200.30 L556.65,204.00 L552.50,207.70 L548.35,204.00 Z M552.50,201.70 L556.65,205.40 L552.50,209.10 L548.35,205.40 Z M552.50,203.10 L556.65,206.80 L552.50,210.50 L548.35,206.80 Z M552.50,204.50 L556.65,208.20 L552.50,211.90 L548.35,208.20 Z M552.50,205.90 L556.65,209.60 L552.50,213.30 L548.35,209.60 Z M552.50,207.30 L556.65,211.00 L552.50,214.70 L548.35,211.00 Z M552.50,208.70 L556.65,212.40 L552.50,216.10 L548.35,212.40 Z M552.50,210.10 L556.65,213.80 L552.50,217.50 L548.35,213.80 Z M552.50,211.50 L556.65,215.20 L552.50,218.90 L548.35,215.20 Z M552.50,212.90 L556.65,216.60 L552.50,220.30 L548.35,216.60 Z M552.50,214.30 L556.65,218.00 L552.50,221.70 L548.35,218.00 Z M552.50,215.70 L556.65,219.40 L552.50,223.10 L548.35,219.40 Z M552.50,217.10 L556.65,220.80 L552.50,224.50 L548.35,220.80 Z M552.50,218.50 L556.65,222.20 L552.50,225.90 L548.35,222.20 Z M552.50,219.90 L556.65,223.60 L552.50,227.30 L548.35,223.60 Z M552.50,220.05 L556.65,223.75 L552.50,227.45 L548.35,223.75 Z M552.50,231.30 L556.65,235.00 L552.50,238.70 L548.35,235.00 Z M552.50,232.80 L556.65,236.50 L552.50,240.20 L548.35,236.50 Z M552.50,234.30 L556.65,238.00 L552.50,241.70 L548.35,238.00 Z M552.50,237.30 L556.65,241.00 L552.50,244.70 L548.35,241.00 Z M552.50,238.80 L556.65,242.50 L552.50,246.20 L548.35,242.50 Z M552.50,240.30 L556.65,244.00 L552.50,247.70 L548.35,244.00 Z M552.50,243.80 L556.65,247.50 L552.50,251.20 L548.35,247.50 Z M552.50,245.30 L556.65,249.00 L552.50,252.70 L548.35,249.00 Z M552.50,246.80 L556.65,250.50 L552.50,254.20 L548.35,250.50 Z M552.50,248.50 L556.65,252.20 L552.50,255.90 L548.35,252.20 Z M552.50,256.60 L556.65,260.30 L552.50,264.00 L548.35,260.30 Z M552.50,264.00 L556.65,267.70 L552.50,271.40 L548.35,267.70 Z M552.50,267.70 L556.65,271.40 L552.50,275.10 L548.35,271.40 Z M552.50,277.70 L556.65,281.40 L552.50,285.10 L548.35,281.40 Z M552.50,374.00 L556.65,377.70 L552.50,381.40 L548.35,377.70 Z" fill="#404040"/>
<g stroke="#111" stroke-width="1.8" fill="none" stroke-linecap="butt">
<path d="M74.05,42.26 V505.46"/>
<path d="M69.3,504.56 H649.2"/>
<path d="M64.9,100.84 H74"/>
<path d="M64.9,216.19 H74"/>
<path d="M64.9,331.54 H74"/>
<path d="M64.9,446.89 H74"/>
<path d="M69.3,43.16 H74"/>
<path d="M69.3,158.51 H74"/>
<path d="M69.3,273.87 H74"/>
<path d="M69.3,389.22 H74"/>
<path d="M169.6,504.56 V513.5"/>
<path d="M361.05,504.56 V513.5"/>
<path d="M552.5,504.56 V513.5"/>
</g>
<g font-family="'Liberation Sans', Arial, sans-serif" font-size="19" fill="#000" stroke="#000" stroke-width="0.8" stroke-linejoin="round" text-anchor="end">
<text x="58.15" y="106.29">10</text>
<text x="58.15" y="221.64">0</text>
<text x="58.15" y="336.99">-10</text>
<text x="58.15" y="452.34">-20</text>
</g>
<g font-family="'Liberation Sans', Arial, sans-serif" font-size="19" font-weight="bold" fill="#000" stroke="#000" stroke-width="0.6" stroke-linejoin="round" text-anchor="middle">
<text transform="translate(169.35,535.7) scale(1,1.07)" font-size="18.8" style="font-kerning:none">Total</text>
<text transform="translate(360.8,535.7) scale(1,1.12)" font-size="18" style="font-kerning:none">AS group</text>
<text transform="translate(552.25,535.7) scale(1,1.12)" font-size="18" style="font-kerning:none">CE group</text>
</g>
<text transform="translate(19.6,273) rotate(-90) scale(1,1.04)" font-family="'Liberation Sans', Arial, sans-serif" font-size="24" fill="#000" stroke="#000" stroke-width="0.8" stroke-linejoin="round" text-anchor="middle">Range</text>
<rect x="565.5" y="1.7" width="117.6" height="33.0" fill="#fff" stroke="#555" stroke-width="1.2"/>
<path d="M595,13.8 L599.0,18 L595,22.2 L591.0,18 Z" fill="#404040"/>
<text x="629.0" y="25.55" font-family="'Liberation Sans', Arial, sans-serif" font-size="23.4" fill="#000" stroke="#000" stroke-width="0.8" stroke-linejoin="round">Data</text>
</svg>
</body></html>
